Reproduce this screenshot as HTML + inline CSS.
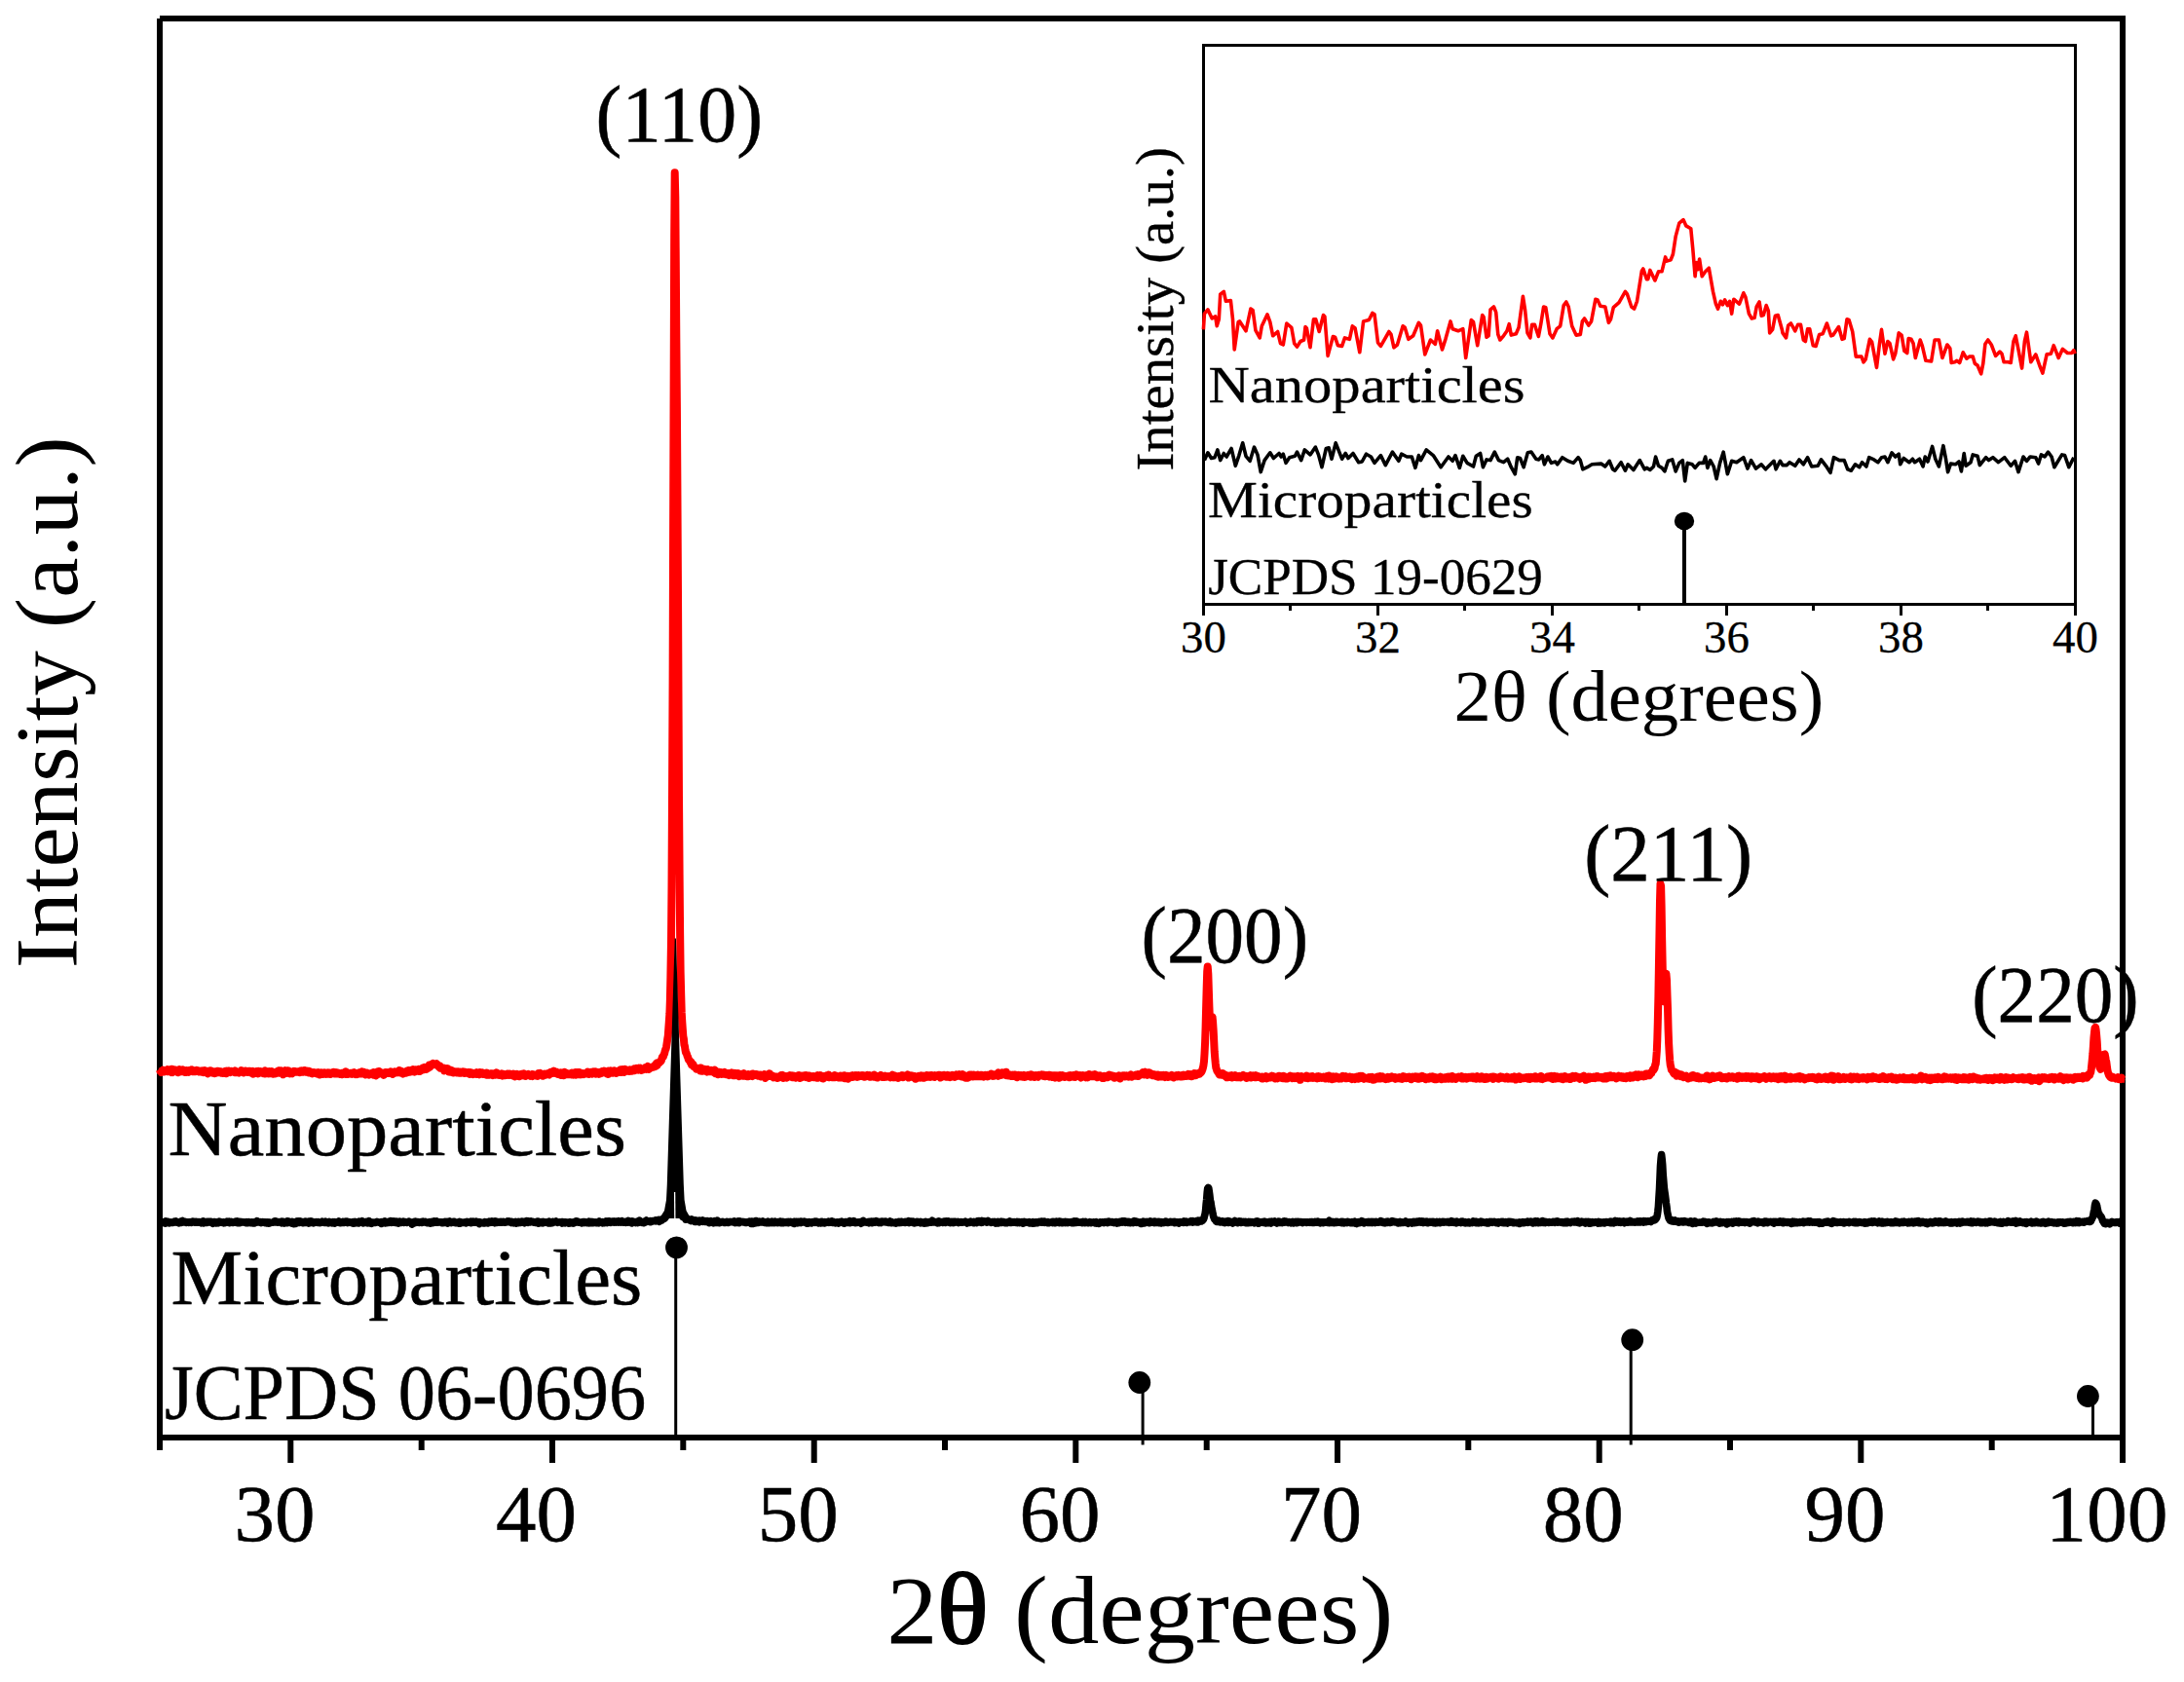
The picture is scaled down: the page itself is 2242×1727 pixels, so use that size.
<!DOCTYPE html>
<html lang="en"><head><meta charset="utf-8"><title>XRD patterns of nanoparticles and microparticles</title>
<style>html,body{margin:0;padding:0;background:#fff}body{width:2242px;height:1727px;overflow:hidden}svg{display:block}text{font-family:"Liberation Serif", "DejaVu Serif", serif;fill:#000;white-space:pre}</style></head><body>
<svg width="2242" height="1727" viewBox="0 0 2242 1727">
<rect width="2242" height="1727" fill="#fff"/>
<g stroke="#000" stroke-width="3" fill="none">
<path d="M693.7 1281.0V1476.0"/>
<path d="M1173.1 1419.5V1483.5"/>
<path d="M1674.2 1375.7V1483.5"/>
<path d="M2148.5 1433.5V1476.0"/>
</g>
<circle cx="694.5" cy="1280.9" r="11.4"/>
<circle cx="1169.8" cy="1419.5" r="11.4"/>
<circle cx="1675.7" cy="1375.7" r="11.4"/>
<circle cx="2143.4" cy="1433.5" r="11.4"/>
<g stroke="#000" stroke-width="6" fill="none">
<path d="M164 19H2179"/><path d="M164 19V1476"/><path d="M2179 16V1502"/><path d="M161 1476H2182"/>
<path d="M298.3 1476V1502"/>
<path d="M567.0 1476V1502"/>
<path d="M835.7 1476V1502"/>
<path d="M1104.3 1476V1502"/>
<path d="M1373.0 1476V1502"/>
<path d="M1641.7 1476V1502"/>
<path d="M1910.3 1476V1502"/>
<path d="M164.0 1476V1489"/>
<path d="M432.7 1476V1489"/>
<path d="M701.3 1476V1489"/>
<path d="M970.0 1476V1489"/>
<path d="M1238.7 1476V1489"/>
<path d="M1507.3 1476V1489"/>
<path d="M1776.0 1476V1489"/>
<path d="M2044.7 1476V1489"/>
</g>
<path d="M164.0 1098.4L164.5 1100.0L165.1 1099.8L165.6 1101.0L166.1 1099.8L166.7 1099.5L167.2 1098.8L167.8 1099.7L168.3 1100.4L168.8 1100.0L169.4 1100.1L169.9 1099.7L170.4 1099.0L171.0 1099.7L171.5 1099.3L172.1 1098.3L172.6 1100.3L173.1 1099.6L173.7 1098.8L174.2 1099.8L174.7 1100.0L175.3 1100.5L175.8 1101.0L176.4 1097.8L176.9 1100.3L177.4 1100.9L178.0 1099.1L178.5 1098.6L179.0 1100.0L179.6 1099.9L180.1 1099.7L180.7 1098.7L181.2 1099.4L181.7 1099.8L182.3 1100.2L182.8 1101.2L183.3 1099.7L183.9 1099.1L184.4 1098.2L185.0 1100.4L185.5 1099.4L186.0 1099.5L186.6 1098.8L187.1 1100.0L187.6 1098.4L188.2 1099.6L188.7 1099.5L189.3 1100.0L189.8 1100.8L190.3 1100.0L190.9 1100.3L191.4 1100.8L191.9 1099.0L192.5 1100.1L193.0 1100.2L193.6 1100.7L194.1 1099.2L194.6 1100.1L195.2 1099.7L195.7 1098.6L196.2 1098.5L196.8 1098.3L197.3 1099.5L197.9 1099.8L198.4 1100.3L198.9 1100.3L199.5 1099.1L200.0 1100.2L200.5 1100.2L201.1 1100.0L201.6 1100.0L202.2 1098.8L202.7 1099.9L203.2 1099.2L203.8 1099.4L204.3 1100.1L204.8 1100.6L205.4 1100.6L205.9 1100.4L206.4 1099.7L207.0 1100.6L207.5 1100.1L208.1 1099.6L208.6 1100.3L209.1 1101.1L209.7 1099.9L210.2 1099.2L210.7 1101.0L211.3 1101.2L211.8 1099.6L212.4 1099.8L212.9 1100.4L213.4 1102.3L214.0 1100.3L214.5 1101.2L215.0 1100.8L215.6 1099.3L216.1 1099.9L216.7 1099.6L217.2 1100.8L217.7 1100.6L218.3 1101.6L218.8 1100.2L219.3 1100.8L219.9 1100.5L220.4 1100.4L221.0 1102.0L221.5 1100.5L222.0 1101.3L222.6 1101.4L223.1 1099.9L223.6 1100.8L224.2 1099.9L224.7 1100.3L225.3 1100.5L225.8 1100.5L226.3 1100.3L226.9 1101.6L227.4 1100.5L227.9 1101.0L228.5 1101.9L229.0 1101.3L229.6 1101.5L230.1 1101.7L230.6 1101.4L231.2 1101.9L231.7 1099.8L232.2 1102.3L232.8 1101.0L233.3 1099.7L233.9 1100.4L234.4 1099.8L234.9 1100.9L235.5 1099.8L236.0 1100.1L236.5 1101.0L237.1 1100.6L237.6 1099.9L238.2 1100.3L238.7 1100.5L239.2 1100.5L239.8 1100.5L240.3 1100.4L240.8 1101.0L241.4 1099.5L241.9 1100.6L242.5 1101.1L243.0 1100.6L243.5 1100.5L244.1 1100.6L244.6 1101.0L245.1 1101.4L245.7 1100.4L246.2 1100.2L246.7 1100.5L247.3 1100.1L247.8 1099.1L248.4 1100.7L248.9 1100.5L249.4 1100.4L250.0 1101.3L250.5 1100.8L251.0 1100.5L251.6 1099.5L252.1 1099.5L252.7 1100.7L253.2 1100.3L253.7 1101.0L254.3 1100.7L254.8 1100.3L255.3 1099.8L255.9 1099.8L256.4 1100.8L257.0 1100.0L257.5 1101.5L258.0 1100.0L258.6 1100.0L259.1 1101.2L259.6 1100.0L260.2 1102.7L260.7 1100.7L261.3 1101.4L261.8 1101.2L262.3 1100.8L262.9 1100.1L263.4 1100.0L263.9 1102.0L264.5 1101.6L265.0 1102.4L265.6 1099.8L266.1 1101.2L266.6 1100.7L267.2 1101.0L267.7 1100.2L268.2 1101.1L268.8 1101.5L269.3 1101.4L269.9 1101.9L270.4 1100.8L270.9 1102.2L271.5 1100.9L272.0 1102.4L272.5 1099.4L273.1 1101.3L273.6 1100.8L274.2 1101.1L274.7 1102.1L275.2 1101.8L275.8 1101.2L276.3 1102.4L276.8 1100.1L277.4 1100.6L277.9 1102.2L278.5 1101.7L279.0 1100.0L279.5 1101.9L280.1 1100.9L280.6 1102.6L281.1 1102.4L281.7 1101.1L282.2 1102.5L282.8 1101.1L283.3 1102.1L283.8 1101.5L284.4 1101.0L284.9 1099.9L285.4 1100.7L286.0 1099.3L286.5 1100.5L287.0 1099.4L287.6 1101.7L288.1 1100.4L288.7 1099.6L289.2 1101.9L289.7 1101.7L290.3 1101.3L290.8 1103.3L291.3 1102.3L291.9 1101.8L292.4 1101.1L293.0 1099.2L293.5 1101.4L294.0 1101.8L294.6 1100.4L295.1 1099.6L295.6 1100.6L296.2 1099.4L296.7 1100.7L297.3 1101.3L297.8 1102.2L298.3 1101.2L298.9 1101.3L299.4 1101.8L299.9 1102.2L300.5 1100.8L301.0 1100.2L301.6 1100.5L302.1 1099.8L302.6 1099.9L303.2 1100.4L303.7 1100.7L304.2 1100.5L304.8 1100.6L305.3 1100.3L305.9 1100.5L306.4 1100.8L306.9 1100.6L307.5 1101.1L308.0 1099.6L308.5 1099.5L309.1 1100.7L309.6 1099.5L310.2 1099.8L310.7 1099.4L311.2 1100.5L311.8 1099.2L312.3 1099.0L312.8 1099.8L313.4 1099.5L313.9 1100.7L314.5 1099.9L315.0 1100.2L315.5 1099.9L316.1 1100.7L316.6 1100.0L317.1 1101.4L317.7 1100.0L318.2 1100.8L318.8 1100.6L319.3 1102.0L319.8 1101.8L320.4 1102.2L320.9 1101.5L321.4 1101.2L322.0 1101.0L322.5 1101.5L323.1 1101.3L323.6 1102.0L324.1 1101.8L324.7 1102.3L325.2 1102.0L325.7 1101.4L326.3 1101.1L326.8 1102.1L327.3 1102.4L327.9 1103.4L328.4 1102.4L329.0 1103.4L329.5 1103.2L330.0 1101.3L330.6 1103.0L331.1 1102.7L331.6 1102.9L332.2 1101.8L332.7 1102.3L333.3 1101.5L333.8 1101.8L334.3 1101.8L334.9 1102.8L335.4 1101.7L335.9 1102.7L336.5 1102.3L337.0 1101.5L337.6 1102.2L338.1 1102.5L338.6 1101.8L339.2 1102.9L339.7 1101.7L340.2 1101.5L340.8 1102.0L341.3 1102.1L341.9 1101.5L342.4 1101.0L342.9 1102.1L343.5 1102.4L344.0 1101.8L344.5 1102.1L345.1 1101.1L345.6 1102.4L346.2 1102.4L346.7 1102.2L347.2 1101.7L347.8 1102.1L348.3 1102.2L348.8 1102.8L349.4 1102.4L349.9 1102.4L350.5 1102.0L351.0 1103.3L351.5 1103.2L352.1 1102.0L352.6 1102.7L353.1 1102.5L353.7 1102.1L354.2 1101.1L354.8 1103.0L355.3 1100.4L355.8 1102.0L356.4 1101.6L356.9 1102.9L357.4 1101.9L358.0 1102.2L358.5 1102.6L359.1 1102.6L359.6 1101.9L360.1 1102.6L360.7 1102.3L361.2 1102.7L361.7 1101.6L362.3 1102.0L362.8 1101.7L363.4 1101.3L363.9 1102.0L364.4 1102.3L365.0 1103.1L365.5 1101.9L366.0 1102.4L366.6 1102.9L367.1 1101.9L367.6 1101.9L368.2 1102.1L368.7 1101.3L369.3 1101.1L369.8 1102.4L370.3 1101.5L370.9 1101.1L371.4 1100.6L371.9 1101.7L372.5 1102.3L373.0 1100.7L373.6 1100.8L374.1 1102.4L374.6 1102.9L375.2 1103.3L375.7 1101.7L376.2 1102.5L376.8 1101.8L377.3 1102.9L377.9 1102.4L378.4 1102.8L378.9 1103.5L379.5 1102.6L380.0 1102.2L380.5 1102.3L381.1 1102.5L381.6 1101.9L382.2 1102.4L382.7 1102.5L383.2 1103.5L383.8 1101.2L384.3 1101.7L384.8 1101.7L385.4 1103.3L385.9 1104.3L386.5 1102.7L387.0 1102.8L387.5 1103.2L388.1 1100.4L388.6 1102.0L389.1 1100.0L389.7 1102.1L390.2 1101.8L390.8 1101.7L391.3 1102.2L391.8 1101.6L392.4 1102.9L392.9 1102.1L393.4 1102.3L394.0 1103.8L394.5 1101.5L395.1 1102.4L395.6 1101.0L396.1 1102.3L396.7 1102.0L397.2 1101.2L397.7 1101.7L398.3 1102.1L398.8 1102.1L399.4 1101.2L399.9 1101.1L400.4 1101.9L401.0 1100.3L401.5 1101.2L402.0 1102.1L402.6 1102.0L403.1 1102.8L403.7 1102.5L404.2 1101.6L404.7 1101.9L405.3 1100.3L405.8 1101.0L406.3 1101.2L406.9 1100.7L407.4 1100.7L407.9 1101.2L408.5 1099.9L409.0 1099.9L409.6 1099.3L410.1 1101.3L410.6 1099.7L411.2 1099.5L411.7 1101.5L412.2 1101.1L412.8 1101.8L413.3 1100.9L413.9 1102.5L414.4 1101.3L414.9 1100.8L415.5 1100.7L416.0 1100.3L416.5 1100.7L417.1 1101.5L417.6 1099.8L418.2 1099.4L418.7 1100.6L419.2 1100.9L419.8 1099.0L420.3 1099.5L420.8 1099.4L421.4 1100.6L421.9 1100.4L422.5 1099.5L423.0 1098.9L423.5 1100.0L424.1 1098.1L424.6 1099.7L425.1 1099.1L425.7 1100.5L426.2 1099.7L426.8 1098.5L427.3 1098.9L427.8 1099.0L428.4 1098.6L428.9 1099.2L429.4 1099.7L430.0 1097.8L430.5 1098.7L431.1 1099.9L431.6 1099.3L432.1 1098.0L432.7 1097.7L433.2 1097.5L433.7 1096.8L434.3 1098.5L434.8 1097.6L435.4 1096.7L435.9 1096.0L436.4 1096.7L437.0 1096.4L437.5 1098.0L438.0 1096.3L438.6 1096.7L439.1 1097.0L439.7 1096.6L440.2 1095.4L440.7 1093.5L441.3 1095.7L441.8 1094.6L442.3 1093.7L442.9 1093.5L443.4 1092.6L444.0 1092.3L444.5 1091.9L445.0 1093.2L445.6 1093.0L446.1 1092.8L446.6 1092.9L447.2 1092.9L447.7 1092.6L448.2 1092.2L448.8 1093.7L449.3 1094.4L449.9 1094.5L450.4 1095.4L450.9 1094.7L451.5 1094.6L452.0 1096.6L452.5 1095.7L453.1 1096.5L453.6 1096.4L454.2 1097.1L454.7 1097.2L455.2 1097.2L455.8 1096.7L456.3 1099.4L456.8 1098.5L457.4 1097.1L457.9 1098.1L458.5 1097.9L459.0 1098.1L459.5 1097.1L460.1 1099.5L460.6 1100.4L461.1 1099.0L461.7 1099.9L462.2 1099.9L462.8 1098.8L463.3 1100.8L463.8 1099.0L464.4 1099.7L464.9 1100.1L465.4 1101.4L466.0 1100.7L466.5 1100.6L467.1 1100.2L467.6 1100.5L468.1 1100.6L468.7 1101.4L469.2 1101.5L469.7 1101.0L470.3 1100.3L470.8 1100.4L471.4 1101.7L471.9 1100.9L472.4 1100.6L473.0 1101.8L473.5 1101.7L474.0 1101.2L474.6 1100.8L475.1 1100.4L475.7 1101.7L476.2 1100.8L476.7 1101.8L477.3 1100.6L477.8 1101.4L478.3 1101.5L478.9 1101.7L479.4 1101.9L480.0 1102.0L480.5 1100.9L481.0 1100.9L481.6 1101.6L482.1 1103.0L482.6 1101.8L483.2 1101.1L483.7 1101.3L484.3 1102.1L484.8 1102.9L485.3 1101.8L485.9 1103.0L486.4 1102.6L486.9 1102.2L487.5 1101.8L488.0 1102.3L488.5 1101.8L489.1 1102.7L489.6 1101.2L490.2 1102.9L490.7 1103.0L491.2 1102.8L491.8 1103.3L492.3 1102.7L492.8 1101.0L493.4 1102.1L493.9 1102.5L494.5 1101.6L495.0 1101.4L495.5 1102.7L496.1 1102.9L496.6 1102.4L497.1 1102.6L497.7 1102.4L498.2 1102.3L498.8 1102.8L499.3 1103.5L499.8 1101.6L500.4 1102.5L500.9 1103.7L501.4 1103.0L502.0 1103.2L502.5 1103.6L503.1 1102.4L503.6 1102.3L504.1 1102.2L504.7 1102.3L505.2 1103.7L505.7 1104.0L506.3 1102.9L506.8 1102.8L507.4 1103.4L507.9 1103.7L508.4 1103.4L509.0 1101.7L509.5 1102.7L510.0 1101.4L510.6 1103.3L511.1 1102.6L511.7 1102.8L512.2 1104.1L512.7 1104.1L513.3 1103.7L513.8 1103.4L514.3 1103.2L514.9 1102.5L515.4 1102.9L516.0 1104.6L516.5 1102.7L517.0 1102.8L517.6 1103.6L518.1 1104.2L518.6 1104.3L519.2 1103.2L519.7 1103.8L520.3 1103.5L520.8 1102.7L521.3 1103.6L521.9 1103.0L522.4 1103.9L522.9 1103.6L523.5 1102.7L524.0 1103.3L524.6 1103.1L525.1 1103.0L525.6 1103.1L526.2 1104.2L526.7 1103.5L527.2 1102.6L527.8 1103.4L528.3 1104.4L528.8 1105.3L529.4 1103.2L529.9 1103.9L530.5 1103.8L531.0 1102.9L531.5 1104.2L532.1 1103.7L532.6 1104.0L533.1 1105.2L533.7 1103.5L534.2 1103.9L534.8 1103.8L535.3 1102.8L535.8 1102.8L536.4 1104.3L536.9 1103.8L537.4 1103.5L538.0 1102.5L538.5 1104.0L539.1 1103.8L539.6 1104.9L540.1 1104.3L540.7 1104.0L541.2 1103.5L541.7 1103.5L542.3 1103.0L542.8 1103.6L543.4 1103.9L543.9 1104.1L544.4 1104.7L545.0 1104.0L545.5 1103.4L546.0 1104.3L546.6 1104.9L547.1 1103.1L547.7 1103.6L548.2 1103.8L548.7 1103.6L549.3 1103.7L549.8 1103.6L550.3 1103.5L550.9 1104.7L551.4 1104.9L552.0 1103.0L552.5 1102.3L553.0 1104.1L553.6 1103.2L554.1 1102.7L554.6 1102.0L555.2 1103.2L555.7 1102.9L556.3 1102.8L556.8 1103.5L557.3 1104.7L557.9 1104.0L558.4 1104.0L558.9 1102.7L559.5 1103.5L560.0 1102.9L560.6 1103.5L561.1 1103.0L561.6 1102.6L562.2 1103.0L562.7 1102.2L563.2 1103.2L563.8 1103.5L564.3 1101.9L564.9 1102.5L565.4 1100.9L565.9 1102.2L566.5 1102.0L567.0 1100.5L567.5 1101.9L568.1 1100.9L568.6 1099.7L569.1 1100.0L569.7 1101.7L570.2 1101.3L570.8 1102.1L571.3 1100.6L571.8 1102.0L572.4 1102.7L572.9 1101.7L573.4 1102.6L574.0 1102.0L574.5 1102.6L575.1 1102.8L575.6 1103.8L576.1 1101.4L576.7 1102.9L577.2 1103.4L577.7 1101.7L578.3 1102.4L578.8 1104.2L579.4 1103.3L579.9 1100.9L580.4 1102.9L581.0 1101.9L581.5 1103.2L582.0 1102.5L582.6 1102.6L583.1 1102.3L583.7 1103.1L584.2 1102.6L584.7 1102.4L585.3 1102.7L585.8 1103.0L586.3 1102.2L586.9 1103.4L587.4 1101.6L588.0 1103.0L588.5 1102.3L589.0 1103.5L589.6 1101.8L590.1 1102.0L590.6 1101.3L591.2 1103.6L591.7 1102.5L592.3 1101.2L592.8 1101.9L593.3 1101.4L593.9 1103.2L594.4 1102.4L594.9 1101.0L595.5 1102.6L596.0 1103.2L596.6 1102.7L597.1 1103.0L597.6 1102.4L598.2 1102.9L598.7 1103.1L599.2 1102.1L599.8 1102.8L600.3 1102.6L600.9 1102.4L601.4 1102.0L601.9 1101.9L602.5 1102.4L603.0 1102.5L603.5 1100.6L604.1 1101.8L604.6 1102.9L605.2 1102.5L605.7 1101.1L606.2 1102.5L606.8 1100.9L607.3 1101.1L607.8 1102.7L608.4 1101.1L608.9 1101.3L609.4 1100.3L610.0 1100.8L610.5 1100.7L611.1 1101.5L611.6 1100.4L612.1 1102.6L612.7 1101.6L613.2 1101.4L613.7 1101.1L614.3 1102.2L614.8 1102.7L615.4 1101.2L615.9 1102.5L616.4 1102.1L617.0 1102.1L617.5 1101.4L618.0 1100.2L618.6 1101.4L619.1 1100.9L619.7 1101.1L620.2 1099.6L620.7 1100.9L621.3 1101.2L621.8 1100.4L622.3 1101.5L622.9 1102.4L623.4 1101.3L624.0 1100.8L624.5 1102.9L625.0 1099.6L625.6 1100.4L626.1 1101.4L626.6 1100.6L627.2 1099.4L627.7 1100.9L628.3 1101.2L628.8 1100.0L629.3 1101.7L629.9 1101.0L630.4 1101.3L630.9 1099.4L631.5 1100.5L632.0 1101.7L632.6 1101.9L633.1 1101.5L633.6 1100.5L634.2 1100.5L634.7 1099.8L635.2 1100.9L635.8 1099.5L636.3 1100.1L636.9 1098.5L637.4 1098.8L637.9 1101.0L638.5 1099.7L639.0 1099.9L639.5 1098.2L640.1 1099.6L640.6 1101.0L641.2 1098.8L641.7 1098.0L642.2 1099.5L642.8 1099.2L643.3 1099.5L643.8 1098.7L644.4 1098.8L644.9 1098.7L645.5 1099.8L646.0 1099.6L646.5 1099.8L647.1 1098.5L647.6 1099.4L648.1 1098.7L648.7 1098.8L649.2 1099.6L649.7 1098.9L650.3 1098.1L650.8 1097.5L651.4 1098.5L651.9 1099.0L652.4 1097.9L653.0 1098.3L653.5 1097.0L654.0 1097.2L654.6 1098.3L655.1 1098.6L655.7 1097.7L656.2 1096.7L656.7 1097.5L657.3 1096.8L657.8 1097.5L658.3 1099.0L658.9 1097.8L659.4 1097.6L660.0 1098.3L660.5 1097.3L661.0 1097.9L661.6 1097.4L662.1 1097.4L662.6 1096.0L663.2 1097.9L663.7 1097.9L664.3 1095.5L664.8 1095.0L665.3 1096.2L665.9 1097.9L666.4 1096.9L666.9 1097.1L667.5 1096.6L668.0 1096.7L668.6 1095.6L669.1 1095.4L669.6 1095.6L670.2 1095.7L670.7 1095.4L671.2 1095.1L671.8 1094.2L672.3 1095.2L672.9 1094.4L673.4 1094.6L673.9 1092.0L674.5 1094.0L675.0 1091.2L675.5 1092.5L676.1 1091.5L676.6 1091.5L677.2 1090.6L677.7 1090.1L678.2 1089.8L678.8 1089.1L679.3 1087.4L679.8 1085.4L680.4 1085.4L680.9 1085.1L681.5 1082.8L682.0 1082.3L682.5 1079.9L683.1 1077.7L683.6 1076.9L684.1 1074.7L684.7 1070.6L685.2 1067.0L685.8 1063.3L686.3 1056.0L686.8 1049.4L687.4 1040.8L687.9 1026.5L688.4 1003.4L689.0 967.2L689.5 910.6L690.0 822.3L690.6 700.9L691.1 547.3L691.7 378.7L692.2 240.3L692.7 177.2L693.3 202.5L693.8 271.6L694.3 346.5L694.9 417.3L695.4 500.4L696.0 607.9L696.5 717.4L697.0 818.0L697.6 898.2L698.1 956.7L698.6 997.3L699.2 1021.4L699.7 1039.4L700.3 1049.7L700.8 1056.7L701.3 1063.7L701.9 1066.8L702.4 1072.7L702.9 1074.0L703.5 1078.1L704.0 1080.6L704.6 1081.2L705.1 1082.7L705.6 1084.6L706.2 1085.4L706.7 1087.8L707.2 1088.3L707.8 1088.6L708.3 1089.5L708.9 1091.4L709.4 1090.2L709.9 1093.0L710.5 1091.9L711.0 1093.0L711.5 1092.8L712.1 1095.1L712.6 1095.0L713.2 1095.7L713.7 1096.0L714.2 1096.2L714.8 1097.5L715.3 1096.8L715.8 1097.1L716.4 1097.6L716.9 1098.0L717.5 1098.0L718.0 1097.7L718.5 1096.6L719.1 1099.5L719.6 1097.5L720.1 1096.8L720.7 1097.7L721.2 1099.8L721.8 1099.6L722.3 1098.5L722.8 1099.2L723.4 1099.1L723.9 1097.9L724.4 1099.5L725.0 1100.1L725.5 1100.5L726.1 1098.8L726.6 1098.2L727.1 1098.9L727.7 1100.3L728.2 1100.2L728.7 1100.3L729.3 1100.3L729.8 1099.9L730.3 1099.0L730.9 1100.2L731.4 1100.2L732.0 1100.4L732.5 1100.9L733.0 1099.3L733.6 1098.7L734.1 1099.2L734.6 1102.2L735.2 1100.0L735.7 1101.1L736.3 1100.9L736.8 1101.5L737.3 1103.2L737.9 1100.7L738.4 1101.1L738.9 1101.0L739.5 1101.9L740.0 1102.2L740.6 1101.2L741.1 1102.9L741.6 1102.8L742.2 1102.4L742.7 1101.8L743.2 1101.7L743.8 1100.9L744.3 1102.7L744.9 1101.5L745.4 1101.8L745.9 1103.1L746.5 1102.0L747.0 1102.5L747.5 1103.5L748.1 1104.0L748.6 1102.1L749.2 1103.5L749.7 1102.3L750.2 1102.9L750.8 1102.8L751.3 1101.5L751.8 1103.1L752.4 1104.0L752.9 1102.7L753.5 1102.7L754.0 1101.9L754.5 1104.3L755.1 1103.2L755.6 1102.3L756.1 1103.9L756.7 1102.4L757.2 1103.1L757.8 1102.2L758.3 1104.5L758.8 1105.1L759.4 1103.1L759.9 1103.2L760.4 1103.4L761.0 1103.1L761.5 1103.8L762.1 1104.4L762.6 1102.6L763.1 1103.6L763.7 1102.2L764.2 1104.7L764.7 1103.5L765.3 1103.3L765.8 1104.8L766.4 1103.8L766.9 1105.0L767.4 1104.8L768.0 1105.1L768.5 1103.1L769.0 1103.6L769.6 1103.8L770.1 1103.7L770.6 1104.7L771.2 1103.2L771.7 1104.3L772.3 1104.9L772.8 1102.5L773.3 1103.2L773.9 1103.2L774.4 1103.4L774.9 1104.0L775.5 1103.5L776.0 1103.9L776.6 1103.2L777.1 1103.6L777.6 1104.4L778.2 1104.7L778.7 1103.7L779.2 1104.3L779.8 1103.9L780.3 1104.3L780.9 1103.7L781.4 1105.4L781.9 1104.8L782.5 1104.2L783.0 1103.8L783.5 1104.0L784.1 1103.8L784.6 1103.3L785.2 1105.7L785.7 1106.8L786.2 1103.8L786.8 1103.7L787.3 1104.8L787.8 1104.6L788.4 1103.2L788.9 1102.9L789.5 1104.2L790.0 1102.4L790.5 1105.0L791.1 1103.8L791.6 1104.4L792.1 1104.6L792.7 1104.3L793.2 1104.9L793.8 1105.2L794.3 1106.4L794.8 1105.5L795.4 1105.8L795.9 1105.7L796.4 1105.5L797.0 1105.4L797.5 1105.7L798.1 1106.9L798.6 1106.3L799.1 1105.6L799.7 1106.3L800.2 1105.5L800.7 1105.1L801.3 1104.9L801.8 1104.1L802.4 1105.2L802.9 1104.9L803.4 1104.0L804.0 1104.4L804.5 1106.9L805.0 1105.8L805.6 1105.8L806.1 1105.8L806.7 1105.3L807.2 1105.8L807.7 1106.5L808.3 1105.4L808.8 1105.8L809.3 1105.8L809.9 1104.7L810.4 1105.0L810.9 1104.3L811.5 1105.3L812.0 1104.6L812.6 1105.5L813.1 1104.3L813.6 1106.1L814.2 1104.9L814.7 1104.7L815.2 1104.7L815.8 1105.8L816.3 1104.8L816.9 1106.6L817.4 1106.4L817.9 1106.1L818.5 1104.6L819.0 1105.5L819.5 1104.9L820.1 1104.3L820.6 1105.7L821.2 1106.9L821.7 1105.0L822.2 1105.7L822.8 1106.2L823.3 1104.5L823.8 1105.0L824.4 1105.3L824.9 1105.4L825.5 1104.5L826.0 1105.3L826.5 1105.3L827.1 1105.9L827.6 1104.2L828.1 1104.6L828.7 1104.8L829.2 1104.9L829.8 1105.4L830.3 1104.6L830.8 1106.9L831.4 1104.6L831.9 1105.5L832.4 1106.1L833.0 1105.9L833.5 1105.4L834.1 1105.1L834.6 1105.6L835.1 1106.1L835.7 1105.5L836.2 1106.1L836.7 1106.0L837.3 1105.2L837.8 1105.0L838.4 1106.6L838.9 1105.0L839.4 1104.2L840.0 1106.6L840.5 1104.6L841.0 1104.5L841.6 1105.7L842.1 1104.1L842.7 1104.3L843.2 1105.8L843.7 1104.6L844.3 1107.1L844.8 1105.6L845.3 1107.3L845.9 1105.3L846.4 1105.4L847.0 1104.9L847.5 1105.4L848.0 1105.0L848.6 1105.2L849.1 1105.6L849.6 1104.1L850.2 1104.5L850.7 1103.6L851.2 1106.2L851.8 1105.1L852.3 1105.3L852.9 1105.1L853.4 1105.9L853.9 1105.7L854.5 1106.1L855.0 1105.2L855.5 1105.2L856.1 1105.2L856.6 1104.1L857.2 1106.2L857.7 1104.3L858.2 1104.7L858.8 1105.8L859.3 1105.3L859.8 1105.8L860.4 1106.4L860.9 1106.5L861.5 1106.3L862.0 1105.0L862.5 1106.5L863.1 1104.5L863.6 1105.3L864.1 1106.2L864.7 1105.3L865.2 1105.6L865.8 1105.5L866.3 1106.8L866.8 1104.2L867.4 1107.1L867.9 1106.8L868.4 1105.9L869.0 1106.2L869.5 1105.0L870.1 1106.4L870.6 1107.7L871.1 1104.9L871.7 1106.4L872.2 1105.4L872.7 1105.0L873.3 1105.2L873.8 1105.3L874.4 1104.3L874.9 1104.1L875.4 1106.0L876.0 1105.0L876.5 1105.5L877.0 1105.3L877.6 1105.4L878.1 1104.1L878.7 1104.6L879.2 1105.6L879.7 1105.9L880.3 1104.2L880.8 1104.6L881.3 1104.3L881.9 1105.2L882.4 1104.9L883.0 1104.6L883.5 1104.4L884.0 1105.0L884.6 1104.8L885.1 1104.1L885.6 1104.9L886.2 1104.5L886.7 1105.7L887.3 1105.7L887.8 1104.7L888.3 1105.6L888.9 1105.2L889.4 1104.7L889.9 1104.5L890.5 1103.9L891.0 1104.1L891.5 1105.0L892.1 1105.5L892.6 1104.1L893.2 1104.8L893.7 1105.1L894.2 1105.6L894.8 1105.2L895.3 1105.5L895.8 1105.3L896.4 1104.5L896.9 1105.5L897.5 1103.6L898.0 1105.2L898.5 1105.4L899.1 1105.8L899.6 1105.6L900.1 1106.5L900.7 1106.5L901.2 1104.9L901.8 1104.9L902.3 1105.3L902.8 1105.4L903.4 1105.1L903.9 1105.2L904.4 1103.9L905.0 1105.5L905.5 1105.9L906.1 1105.9L906.6 1105.5L907.1 1105.2L907.7 1106.0L908.2 1105.9L908.7 1104.7L909.3 1105.3L909.8 1105.7L910.4 1105.6L910.9 1105.2L911.4 1105.3L912.0 1105.1L912.5 1105.4L913.0 1105.3L913.6 1105.5L914.1 1106.2L914.7 1105.6L915.2 1105.7L915.7 1104.8L916.3 1103.7L916.8 1105.4L917.3 1106.2L917.9 1105.5L918.4 1105.3L919.0 1104.8L919.5 1106.2L920.0 1105.0L920.6 1105.4L921.1 1106.1L921.6 1105.9L922.2 1106.9L922.7 1105.2L923.3 1106.0L923.8 1105.8L924.3 1104.9L924.9 1105.4L925.4 1104.9L925.9 1104.3L926.5 1105.3L927.0 1104.4L927.6 1106.1L928.1 1104.5L928.6 1104.6L929.2 1105.1L929.7 1104.7L930.2 1105.1L930.8 1104.8L931.3 1104.3L931.8 1103.5L932.4 1104.5L932.9 1106.5L933.5 1105.8L934.0 1105.5L934.5 1105.1L935.1 1105.1L935.6 1105.3L936.1 1104.3L936.7 1104.6L937.2 1104.7L937.8 1106.2L938.3 1104.9L938.8 1106.3L939.4 1105.3L939.9 1107.8L940.4 1105.6L941.0 1105.7L941.5 1106.7L942.1 1106.4L942.6 1106.2L943.1 1104.8L943.7 1106.3L944.2 1106.6L944.7 1105.3L945.3 1105.3L945.8 1104.5L946.4 1106.0L946.9 1105.7L947.4 1105.5L948.0 1104.7L948.5 1106.8L949.0 1106.2L949.6 1105.2L950.1 1106.2L950.7 1104.3L951.2 1105.4L951.7 1104.0L952.3 1105.7L952.8 1104.4L953.3 1105.5L953.9 1104.4L954.4 1104.9L955.0 1105.7L955.5 1104.1L956.0 1105.0L956.6 1104.3L957.1 1105.4L957.6 1104.5L958.2 1104.7L958.7 1104.9L959.3 1105.8L959.8 1104.2L960.3 1105.0L960.9 1104.5L961.4 1104.3L961.9 1104.3L962.5 1104.8L963.0 1105.0L963.6 1103.8L964.1 1105.0L964.6 1103.8L965.2 1104.8L965.7 1106.5L966.2 1104.1L966.8 1104.7L967.3 1104.6L967.9 1105.3L968.4 1104.5L968.9 1103.8L969.5 1103.9L970.0 1104.9L970.5 1104.7L971.1 1105.6L971.6 1104.4L972.1 1105.4L972.7 1104.0L973.2 1105.6L973.8 1104.8L974.3 1104.4L974.8 1105.0L975.4 1106.1L975.9 1104.3L976.4 1104.1L977.0 1104.1L977.5 1103.9L978.1 1104.8L978.6 1105.3L979.1 1104.9L979.7 1105.1L980.2 1105.9L980.7 1104.7L981.3 1104.2L981.8 1103.4L982.4 1105.1L982.9 1104.3L983.4 1104.5L984.0 1104.8L984.5 1104.7L985.0 1103.2L985.6 1103.5L986.1 1104.4L986.7 1104.3L987.2 1105.4L987.7 1104.4L988.3 1103.1L988.8 1105.7L989.3 1103.9L989.9 1104.5L990.4 1105.3L991.0 1104.4L991.5 1106.8L992.0 1105.4L992.6 1105.7L993.1 1105.0L993.6 1106.7L994.2 1105.4L994.7 1104.4L995.3 1105.8L995.8 1103.6L996.3 1104.2L996.9 1104.7L997.4 1104.4L997.9 1103.6L998.5 1105.4L999.0 1105.4L999.6 1103.6L1000.1 1104.4L1000.6 1103.8L1001.2 1104.0L1001.7 1105.1L1002.2 1104.6L1002.8 1104.5L1003.3 1104.5L1003.9 1103.6L1004.4 1105.2L1004.9 1103.9L1005.5 1105.2L1006.0 1103.9L1006.5 1103.8L1007.1 1105.1L1007.6 1104.5L1008.2 1103.9L1008.7 1104.1L1009.2 1104.7L1009.8 1105.5L1010.3 1104.8L1010.8 1104.1L1011.4 1103.7L1011.9 1103.9L1012.4 1104.3L1013.0 1104.3L1013.5 1103.9L1014.1 1105.3L1014.6 1103.7L1015.1 1103.7L1015.7 1104.3L1016.2 1104.1L1016.7 1103.4L1017.3 1104.4L1017.8 1102.6L1018.4 1104.7L1018.9 1104.9L1019.4 1104.5L1020.0 1103.4L1020.5 1104.7L1021.0 1103.4L1021.6 1104.2L1022.1 1103.3L1022.7 1103.6L1023.2 1104.0L1023.7 1102.5L1024.3 1103.5L1024.8 1104.8L1025.3 1101.4L1025.9 1103.6L1026.4 1103.7L1027.0 1103.1L1027.5 1103.0L1028.0 1103.8L1028.6 1103.0L1029.1 1101.3L1029.6 1102.1L1030.2 1102.6L1030.7 1102.9L1031.3 1102.5L1031.8 1102.5L1032.3 1103.8L1032.9 1100.7L1033.4 1104.1L1033.9 1104.0L1034.5 1103.9L1035.0 1103.9L1035.6 1104.1L1036.1 1104.6L1036.6 1104.5L1037.2 1103.8L1037.7 1104.8L1038.2 1103.9L1038.8 1104.7L1039.3 1104.3L1039.9 1103.8L1040.4 1104.9L1040.9 1104.6L1041.5 1103.8L1042.0 1104.5L1042.5 1103.6L1043.1 1105.6L1043.6 1104.9L1044.2 1106.1L1044.7 1104.4L1045.2 1105.1L1045.8 1103.9L1046.3 1104.1L1046.8 1104.7L1047.4 1104.9L1047.9 1105.3L1048.5 1104.3L1049.0 1105.6L1049.5 1105.7L1050.1 1104.5L1050.6 1104.7L1051.1 1104.0L1051.7 1106.0L1052.2 1104.7L1052.7 1105.7L1053.3 1105.4L1053.8 1104.4L1054.4 1104.1L1054.9 1105.0L1055.4 1104.2L1056.0 1103.8L1056.5 1103.7L1057.0 1104.5L1057.6 1104.5L1058.1 1105.6L1058.7 1103.4L1059.2 1104.9L1059.7 1103.7L1060.3 1105.3L1060.8 1105.2L1061.3 1104.8L1061.9 1105.9L1062.4 1104.7L1063.0 1104.6L1063.5 1104.1L1064.0 1104.4L1064.6 1104.8L1065.1 1105.3L1065.6 1105.7L1066.2 1104.4L1066.7 1103.8L1067.3 1103.9L1067.8 1104.1L1068.3 1104.0L1068.9 1104.0L1069.4 1103.6L1069.9 1104.5L1070.5 1104.4L1071.0 1104.8L1071.6 1103.8L1072.1 1104.8L1072.6 1105.2L1073.2 1105.3L1073.7 1104.4L1074.2 1104.0L1074.8 1103.9L1075.3 1103.9L1075.9 1104.5L1076.4 1105.0L1076.9 1104.0L1077.5 1105.6L1078.0 1103.9L1078.5 1104.2L1079.1 1104.3L1079.6 1105.4L1080.2 1105.8L1080.7 1104.2L1081.2 1104.2L1081.8 1104.3L1082.3 1104.7L1082.8 1105.0L1083.4 1106.6L1083.9 1104.3L1084.5 1105.1L1085.0 1104.6L1085.5 1105.4L1086.1 1104.8L1086.6 1105.6L1087.1 1104.3L1087.7 1106.7L1088.2 1105.4L1088.8 1104.1L1089.3 1105.7L1089.8 1104.8L1090.4 1104.2L1090.9 1105.2L1091.4 1104.5L1092.0 1105.6L1092.5 1104.7L1093.0 1105.8L1093.6 1105.2L1094.1 1105.3L1094.7 1105.2L1095.2 1104.9L1095.7 1104.8L1096.3 1105.2L1096.8 1105.3L1097.3 1104.5L1097.9 1106.2L1098.4 1105.9L1099.0 1104.0L1099.5 1105.5L1100.0 1104.9L1100.6 1105.0L1101.1 1104.4L1101.6 1105.7L1102.2 1104.2L1102.7 1104.4L1103.3 1104.0L1103.8 1105.9L1104.3 1105.3L1104.9 1103.4L1105.4 1104.0L1105.9 1104.9L1106.5 1104.6L1107.0 1104.9L1107.6 1104.5L1108.1 1105.2L1108.6 1104.1L1109.2 1105.5L1109.7 1106.5L1110.2 1104.4L1110.8 1105.6L1111.3 1105.1L1111.9 1104.1L1112.4 1104.5L1112.9 1104.4L1113.5 1105.1L1114.0 1105.7L1114.5 1106.2L1115.1 1105.2L1115.6 1104.2L1116.2 1105.1L1116.7 1106.3L1117.2 1105.1L1117.8 1104.7L1118.3 1103.0L1118.8 1104.0L1119.4 1104.8L1119.9 1103.8L1120.5 1105.2L1121.0 1103.8L1121.5 1103.6L1122.1 1103.9L1122.6 1104.4L1123.1 1105.1L1123.7 1104.1L1124.2 1103.2L1124.8 1104.7L1125.3 1105.1L1125.8 1105.9L1126.4 1104.2L1126.9 1106.2L1127.4 1105.5L1128.0 1105.3L1128.5 1104.5L1129.1 1104.3L1129.6 1104.5L1130.1 1105.9L1130.7 1105.4L1131.2 1106.2L1131.7 1106.9L1132.3 1105.5L1132.8 1105.5L1133.3 1107.0L1133.9 1104.8L1134.4 1105.5L1135.0 1105.5L1135.5 1105.2L1136.0 1105.3L1136.6 1104.8L1137.1 1106.2L1137.6 1104.2L1138.2 1104.4L1138.7 1103.6L1139.3 1103.7L1139.8 1105.2L1140.3 1105.3L1140.9 1104.6L1141.4 1105.4L1141.9 1105.5L1142.5 1104.7L1143.0 1105.2L1143.6 1105.5L1144.1 1106.7L1144.6 1105.1L1145.2 1105.7L1145.7 1105.8L1146.2 1106.1L1146.8 1105.5L1147.3 1106.1L1147.9 1104.8L1148.4 1105.4L1148.9 1104.4L1149.5 1105.9L1150.0 1107.4L1150.5 1105.8L1151.1 1105.7L1151.6 1105.6L1152.2 1105.3L1152.7 1104.2L1153.2 1104.2L1153.8 1104.7L1154.3 1105.2L1154.8 1104.5L1155.4 1105.2L1155.9 1104.8L1156.5 1104.4L1157.0 1104.7L1157.5 1104.8L1158.1 1105.6L1158.6 1105.7L1159.1 1105.1L1159.7 1104.5L1160.2 1104.1L1160.8 1103.4L1161.3 1104.1L1161.8 1105.6L1162.4 1105.2L1162.9 1104.6L1163.4 1104.3L1164.0 1104.5L1164.5 1104.8L1165.1 1104.4L1165.6 1104.6L1166.1 1103.7L1166.7 1104.5L1167.2 1104.0L1167.7 1104.8L1168.3 1103.1L1168.8 1104.8L1169.4 1103.7L1169.9 1103.2L1170.4 1103.4L1171.0 1103.3L1171.5 1102.8L1172.0 1103.1L1172.6 1102.3L1173.1 1101.2L1173.6 1102.8L1174.2 1102.3L1174.7 1103.4L1175.3 1102.3L1175.8 1100.7L1176.3 1102.9L1176.9 1101.6L1177.4 1102.5L1177.9 1103.8L1178.5 1102.9L1179.0 1101.4L1179.6 1102.3L1180.1 1101.5L1180.6 1103.2L1181.2 1103.3L1181.7 1102.3L1182.2 1103.4L1182.8 1104.2L1183.3 1104.3L1183.9 1103.4L1184.4 1103.3L1184.9 1103.3L1185.5 1103.3L1186.0 1104.6L1186.5 1104.3L1187.1 1105.1L1187.6 1104.6L1188.2 1104.3L1188.7 1103.8L1189.2 1105.6L1189.8 1104.5L1190.3 1104.6L1190.8 1103.9L1191.4 1104.0L1191.9 1105.3L1192.5 1104.2L1193.0 1105.3L1193.5 1105.5L1194.1 1104.8L1194.6 1103.8L1195.1 1105.4L1195.7 1105.9L1196.2 1104.3L1196.8 1103.9L1197.3 1105.4L1197.8 1104.9L1198.4 1104.5L1198.9 1106.0L1199.4 1105.0L1200.0 1105.6L1200.5 1104.9L1201.1 1104.6L1201.6 1105.4L1202.1 1104.6L1202.7 1103.9L1203.2 1104.5L1203.7 1105.6L1204.3 1105.5L1204.8 1106.4L1205.4 1105.5L1205.9 1105.8L1206.4 1104.9L1207.0 1104.4L1207.5 1105.1L1208.0 1104.1L1208.6 1105.4L1209.1 1104.4L1209.7 1105.0L1210.2 1104.0L1210.7 1104.4L1211.3 1105.3L1211.8 1104.6L1212.3 1104.3L1212.9 1104.8L1213.4 1105.3L1213.9 1104.3L1214.5 1103.7L1215.0 1103.6L1215.6 1103.7L1216.1 1105.1L1216.6 1104.1L1217.2 1104.7L1217.7 1105.0L1218.2 1104.5L1218.8 1104.7L1219.3 1104.0L1219.9 1102.9L1220.4 1104.6L1220.9 1104.3L1221.5 1104.3L1222.0 1103.2L1222.5 1103.7L1223.1 1105.2L1223.6 1103.2L1224.2 1104.2L1224.7 1104.8L1225.2 1103.5L1225.8 1104.0L1226.3 1102.2L1226.8 1104.2L1227.4 1103.1L1227.9 1104.0L1228.5 1102.6L1229.0 1102.3L1229.5 1102.7L1230.1 1101.9L1230.6 1101.7L1231.1 1102.9L1231.7 1102.3L1232.2 1101.3L1232.8 1101.4L1233.3 1100.6L1233.8 1099.6L1234.4 1098.2L1234.9 1096.4L1235.4 1094.1L1236.0 1089.7L1236.5 1082.3L1237.1 1070.2L1237.6 1054.9L1238.1 1035.5L1238.7 1013.6L1239.2 997.5L1239.7 992.4L1240.3 999.9L1240.8 1015.9L1241.4 1033.6L1241.9 1046.7L1242.4 1054.6L1243.0 1053.9L1243.5 1049.0L1244.0 1044.5L1244.6 1044.3L1245.1 1049.5L1245.7 1058.7L1246.2 1069.0L1246.7 1079.6L1247.3 1086.8L1247.8 1092.2L1248.3 1096.3L1248.9 1097.9L1249.4 1099.9L1250.0 1100.2L1250.5 1101.1L1251.0 1101.8L1251.6 1103.2L1252.1 1103.5L1252.6 1103.2L1253.2 1102.3L1253.7 1103.2L1254.2 1103.7L1254.8 1103.8L1255.3 1102.1L1255.9 1103.4L1256.4 1103.1L1256.9 1104.4L1257.5 1104.4L1258.0 1103.7L1258.5 1105.6L1259.1 1104.2L1259.6 1106.3L1260.2 1104.7L1260.7 1104.9L1261.2 1106.1L1261.8 1104.4L1262.3 1104.4L1262.8 1105.8L1263.4 1105.0L1263.9 1105.2L1264.5 1104.3L1265.0 1106.4L1265.5 1105.9L1266.1 1105.8L1266.6 1106.0L1267.1 1105.4L1267.7 1105.2L1268.2 1104.3L1268.8 1105.6L1269.3 1106.2L1269.8 1106.0L1270.4 1106.2L1270.9 1106.1L1271.4 1105.0L1272.0 1104.8L1272.5 1106.2L1273.1 1105.9L1273.6 1106.3L1274.1 1105.3L1274.7 1104.8L1275.2 1105.6L1275.7 1104.9L1276.3 1104.0L1276.8 1104.7L1277.4 1104.4L1277.9 1104.4L1278.4 1104.8L1279.0 1105.8L1279.5 1106.8L1280.0 1106.5L1280.6 1105.2L1281.1 1106.3L1281.7 1105.4L1282.2 1105.4L1282.7 1104.9L1283.3 1105.2L1283.8 1104.1L1284.3 1106.5L1284.9 1104.6L1285.4 1105.4L1286.0 1104.7L1286.5 1105.4L1287.0 1104.5L1287.6 1105.1L1288.1 1106.0L1288.6 1105.6L1289.2 1104.2L1289.7 1106.1L1290.3 1104.8L1290.8 1106.0L1291.3 1106.0L1291.9 1105.1L1292.4 1105.4L1292.9 1105.6L1293.5 1106.0L1294.0 1106.6L1294.5 1106.9L1295.1 1106.1L1295.6 1107.4L1296.2 1105.7L1296.7 1107.5L1297.2 1106.2L1297.8 1106.6L1298.3 1106.0L1298.8 1106.0L1299.4 1105.2L1299.9 1106.2L1300.5 1107.3L1301.0 1106.1L1301.5 1105.7L1302.1 1105.9L1302.6 1106.4L1303.1 1105.8L1303.7 1105.7L1304.2 1105.7L1304.8 1106.3L1305.3 1106.0L1305.8 1104.7L1306.4 1105.0L1306.9 1105.2L1307.4 1106.0L1308.0 1106.3L1308.5 1105.8L1309.1 1107.4L1309.6 1105.8L1310.1 1107.0L1310.7 1107.1L1311.2 1107.3L1311.7 1106.3L1312.3 1106.5L1312.8 1104.8L1313.4 1104.8L1313.9 1105.7L1314.4 1106.4L1315.0 1106.6L1315.5 1106.0L1316.0 1106.7L1316.6 1106.4L1317.1 1107.1L1317.7 1104.9L1318.2 1105.6L1318.7 1105.8L1319.3 1105.7L1319.8 1107.4L1320.3 1105.6L1320.9 1106.0L1321.4 1106.3L1322.0 1107.2L1322.5 1105.9L1323.0 1106.6L1323.6 1106.5L1324.1 1105.8L1324.6 1104.7L1325.2 1105.4L1325.7 1105.3L1326.3 1107.1L1326.8 1105.9L1327.3 1105.5L1327.9 1106.4L1328.4 1106.0L1328.9 1105.5L1329.5 1107.0L1330.0 1106.8L1330.6 1106.2L1331.1 1105.6L1331.6 1105.5L1332.2 1105.0L1332.7 1107.0L1333.2 1106.7L1333.8 1105.9L1334.3 1106.5L1334.8 1108.8L1335.4 1105.7L1335.9 1105.2L1336.5 1106.6L1337.0 1105.8L1337.5 1105.9L1338.1 1106.2L1338.6 1105.8L1339.1 1106.5L1339.7 1106.2L1340.2 1106.8L1340.8 1106.1L1341.3 1104.6L1341.8 1106.8L1342.4 1105.1L1342.9 1107.1L1343.4 1106.5L1344.0 1105.4L1344.5 1106.2L1345.1 1106.6L1345.6 1105.3L1346.1 1106.1L1346.7 1105.5L1347.2 1105.2L1347.7 1105.7L1348.3 1106.9L1348.8 1106.7L1349.4 1106.4L1349.9 1106.5L1350.4 1106.8L1351.0 1106.8L1351.5 1106.8L1352.0 1105.4L1352.6 1107.3L1353.1 1106.3L1353.7 1105.2L1354.2 1107.0L1354.7 1105.4L1355.3 1106.1L1355.8 1106.2L1356.3 1106.0L1356.9 1106.8L1357.4 1106.2L1358.0 1106.0L1358.5 1105.7L1359.0 1106.5L1359.6 1106.2L1360.1 1106.8L1360.6 1107.4L1361.2 1107.0L1361.7 1106.2L1362.3 1105.1L1362.8 1106.8L1363.3 1106.6L1363.9 1107.4L1364.4 1104.5L1364.9 1106.1L1365.5 1106.3L1366.0 1107.3L1366.6 1105.9L1367.1 1106.3L1367.6 1108.1L1368.2 1107.2L1368.7 1105.3L1369.2 1106.8L1369.8 1107.5L1370.3 1106.3L1370.9 1107.1L1371.4 1106.7L1371.9 1105.5L1372.5 1106.1L1373.0 1107.3L1373.5 1107.4L1374.1 1106.3L1374.6 1107.5L1375.1 1106.3L1375.7 1107.1L1376.2 1107.0L1376.8 1106.2L1377.3 1107.3L1377.8 1106.6L1378.4 1104.8L1378.9 1106.2L1379.4 1106.3L1380.0 1106.3L1380.5 1106.2L1381.1 1106.4L1381.6 1105.2L1382.1 1107.3L1382.7 1106.9L1383.2 1106.9L1383.7 1106.4L1384.3 1106.4L1384.8 1106.3L1385.4 1105.5L1385.9 1105.5L1386.4 1106.8L1387.0 1107.6L1387.5 1107.0L1388.0 1108.0L1388.6 1106.0L1389.1 1106.7L1389.7 1106.6L1390.2 1107.6L1390.7 1108.0L1391.3 1106.1L1391.8 1107.0L1392.3 1106.4L1392.9 1105.8L1393.4 1106.4L1394.0 1105.8L1394.5 1107.6L1395.0 1106.7L1395.6 1107.2L1396.1 1106.7L1396.6 1104.9L1397.2 1107.0L1397.7 1106.7L1398.3 1104.9L1398.8 1106.6L1399.3 1107.3L1399.9 1107.8L1400.4 1106.1L1400.9 1107.3L1401.5 1107.0L1402.0 1106.7L1402.6 1106.9L1403.1 1107.5L1403.6 1107.5L1404.2 1107.6L1404.7 1106.8L1405.2 1106.1L1405.8 1107.9L1406.3 1107.8L1406.9 1106.5L1407.4 1106.9L1407.9 1107.6L1408.5 1105.8L1409.0 1107.5L1409.5 1108.7L1410.1 1107.4L1410.6 1106.6L1411.2 1108.4L1411.7 1106.9L1412.2 1107.2L1412.8 1106.7L1413.3 1106.9L1413.8 1105.6L1414.4 1105.6L1414.9 1105.8L1415.4 1107.3L1416.0 1106.5L1416.5 1107.2L1417.1 1105.0L1417.6 1105.9L1418.1 1107.3L1418.7 1106.1L1419.2 1105.5L1419.7 1106.2L1420.3 1106.4L1420.8 1106.6L1421.4 1107.6L1421.9 1107.7L1422.4 1108.0L1423.0 1107.1L1423.5 1106.3L1424.0 1106.4L1424.6 1105.9L1425.1 1107.7L1425.7 1107.6L1426.2 1106.9L1426.7 1106.1L1427.3 1107.1L1427.8 1106.8L1428.3 1106.4L1428.9 1105.5L1429.4 1106.5L1430.0 1106.0L1430.5 1106.9L1431.0 1106.8L1431.6 1106.7L1432.1 1106.2L1432.6 1107.8L1433.2 1107.1L1433.7 1107.5L1434.3 1107.2L1434.8 1107.2L1435.3 1107.2L1435.9 1106.3L1436.4 1106.0L1436.9 1106.5L1437.5 1107.6L1438.0 1107.7L1438.6 1107.1L1439.1 1106.9L1439.6 1107.8L1440.2 1106.2L1440.7 1105.1L1441.2 1105.3L1441.8 1106.2L1442.3 1107.1L1442.9 1107.1L1443.4 1106.4L1443.9 1107.1L1444.5 1106.5L1445.0 1105.9L1445.5 1106.2L1446.1 1107.0L1446.6 1106.9L1447.2 1105.6L1447.7 1105.8L1448.2 1106.7L1448.8 1108.2L1449.3 1106.0L1449.8 1105.7L1450.4 1106.6L1450.9 1106.8L1451.5 1106.1L1452.0 1106.6L1452.5 1106.9L1453.1 1105.3L1453.6 1106.5L1454.1 1107.1L1454.7 1107.5L1455.2 1107.6L1455.7 1106.7L1456.3 1105.6L1456.8 1107.6L1457.4 1107.2L1457.9 1106.1L1458.4 1107.2L1459.0 1107.2L1459.5 1106.4L1460.0 1104.8L1460.6 1106.2L1461.1 1105.9L1461.7 1105.8L1462.2 1106.7L1462.7 1106.1L1463.3 1107.1L1463.8 1108.2L1464.3 1106.3L1464.9 1107.5L1465.4 1106.4L1466.0 1107.3L1466.5 1106.8L1467.0 1107.6L1467.6 1106.0L1468.1 1107.1L1468.6 1105.7L1469.2 1106.7L1469.7 1106.6L1470.3 1107.2L1470.8 1105.3L1471.3 1105.7L1471.9 1107.6L1472.4 1107.0L1472.9 1108.2L1473.5 1106.2L1474.0 1107.0L1474.6 1107.3L1475.1 1108.1L1475.6 1106.8L1476.2 1106.5L1476.7 1107.3L1477.2 1106.6L1477.8 1106.4L1478.3 1107.4L1478.9 1105.7L1479.4 1106.4L1479.9 1108.1L1480.5 1106.8L1481.0 1107.0L1481.5 1107.5L1482.1 1107.8L1482.6 1107.4L1483.2 1106.3L1483.7 1106.5L1484.2 1107.6L1484.8 1106.7L1485.3 1106.1L1485.8 1106.8L1486.4 1107.1L1486.9 1107.6L1487.5 1105.5L1488.0 1105.8L1488.5 1105.8L1489.1 1106.6L1489.6 1106.3L1490.1 1107.5L1490.7 1105.0L1491.2 1107.7L1491.8 1106.7L1492.3 1106.7L1492.8 1107.2L1493.4 1107.1L1493.9 1106.3L1494.4 1107.9L1495.0 1107.2L1495.5 1106.4L1496.0 1106.8L1496.6 1106.0L1497.1 1105.7L1497.7 1106.3L1498.2 1106.6L1498.7 1106.7L1499.3 1106.1L1499.8 1105.7L1500.3 1105.3L1500.9 1107.5L1501.4 1106.9L1502.0 1105.8L1502.5 1107.5L1503.0 1106.8L1503.6 1106.0L1504.1 1105.9L1504.6 1107.2L1505.2 1106.8L1505.7 1107.6L1506.3 1106.8L1506.8 1106.0L1507.3 1106.0L1507.9 1105.8L1508.4 1106.6L1508.9 1106.6L1509.5 1106.7L1510.0 1106.6L1510.6 1105.6L1511.1 1106.2L1511.6 1105.8L1512.2 1107.1L1512.7 1105.6L1513.2 1106.1L1513.8 1105.8L1514.3 1106.0L1514.9 1106.4L1515.4 1107.5L1515.9 1106.3L1516.5 1105.3L1517.0 1106.3L1517.5 1106.9L1518.1 1106.7L1518.6 1106.6L1519.2 1107.6L1519.7 1107.1L1520.2 1106.5L1520.8 1107.2L1521.3 1105.4L1521.8 1106.3L1522.4 1106.0L1522.9 1106.6L1523.5 1107.7L1524.0 1106.6L1524.5 1107.8L1525.1 1106.3L1525.6 1107.8L1526.1 1105.8L1526.7 1106.3L1527.2 1107.6L1527.8 1106.8L1528.3 1106.6L1528.8 1106.4L1529.4 1106.3L1529.9 1106.4L1530.4 1105.9L1531.0 1106.3L1531.5 1106.5L1532.1 1105.8L1532.6 1106.7L1533.1 1107.9L1533.7 1105.7L1534.2 1106.3L1534.7 1106.3L1535.3 1106.4L1535.8 1106.7L1536.3 1106.3L1536.9 1106.8L1537.4 1106.7L1538.0 1106.5L1538.5 1107.6L1539.0 1106.6L1539.6 1105.6L1540.1 1105.4L1540.6 1106.9L1541.2 1106.4L1541.7 1106.1L1542.3 1105.8L1542.8 1106.6L1543.3 1106.9L1543.9 1106.6L1544.4 1106.7L1544.9 1107.4L1545.5 1107.1L1546.0 1107.1L1546.6 1106.4L1547.1 1105.6L1547.6 1107.2L1548.2 1107.7L1548.7 1107.6L1549.2 1107.5L1549.8 1107.0L1550.3 1107.1L1550.9 1106.6L1551.4 1107.4L1551.9 1106.1L1552.5 1107.6L1553.0 1106.7L1553.5 1105.9L1554.1 1106.4L1554.6 1105.3L1555.2 1106.2L1555.7 1106.5L1556.2 1108.5L1556.8 1106.4L1557.3 1107.7L1557.8 1107.1L1558.4 1106.7L1558.9 1107.3L1559.5 1105.4L1560.0 1107.2L1560.5 1107.9L1561.1 1106.9L1561.6 1106.6L1562.1 1106.8L1562.7 1107.2L1563.2 1106.6L1563.8 1106.9L1564.3 1107.1L1564.8 1106.6L1565.4 1106.9L1565.9 1106.9L1566.4 1107.0L1567.0 1106.0L1567.5 1106.1L1568.1 1106.3L1568.6 1107.7L1569.1 1106.8L1569.7 1105.8L1570.2 1105.9L1570.7 1107.9L1571.3 1106.8L1571.8 1105.8L1572.4 1106.0L1572.9 1106.3L1573.4 1107.3L1574.0 1107.2L1574.5 1105.9L1575.0 1106.1L1575.6 1107.3L1576.1 1105.2L1576.6 1107.2L1577.2 1106.8L1577.7 1106.6L1578.3 1107.3L1578.8 1106.9L1579.3 1106.1L1579.9 1105.9L1580.4 1106.9L1580.9 1107.0L1581.5 1107.5L1582.0 1105.0L1582.6 1107.8L1583.1 1107.4L1583.6 1108.0L1584.2 1107.4L1584.7 1107.3L1585.2 1107.3L1585.8 1107.3L1586.3 1106.6L1586.9 1106.7L1587.4 1106.8L1587.9 1106.1L1588.5 1105.4L1589.0 1105.3L1589.5 1106.6L1590.1 1106.6L1590.6 1106.1L1591.2 1105.3L1591.7 1106.7L1592.2 1106.0L1592.8 1105.0L1593.3 1107.6L1593.8 1105.5L1594.4 1107.9L1594.9 1106.9L1595.5 1106.3L1596.0 1105.0L1596.5 1106.1L1597.1 1107.6L1597.6 1107.2L1598.1 1106.6L1598.7 1105.4L1599.2 1106.4L1599.8 1106.7L1600.3 1107.1L1600.8 1106.8L1601.4 1107.0L1601.9 1105.9L1602.4 1106.3L1603.0 1107.7L1603.5 1105.6L1604.1 1107.1L1604.6 1108.2L1605.1 1107.1L1605.7 1105.6L1606.2 1107.4L1606.7 1105.1L1607.3 1106.6L1607.8 1106.2L1608.4 1107.3L1608.9 1107.1L1609.4 1106.3L1610.0 1107.4L1610.5 1107.0L1611.0 1106.3L1611.6 1106.0L1612.1 1108.0L1612.7 1106.0L1613.2 1106.6L1613.7 1106.3L1614.3 1105.9L1614.8 1105.0L1615.3 1106.1L1615.9 1105.9L1616.4 1106.8L1616.9 1105.7L1617.5 1104.9L1618.0 1105.3L1618.6 1106.2L1619.1 1106.3L1619.6 1106.6L1620.2 1105.9L1620.7 1106.6L1621.2 1106.6L1621.8 1107.7L1622.3 1106.3L1622.9 1106.3L1623.4 1106.7L1623.9 1106.9L1624.5 1105.5L1625.0 1106.0L1625.5 1106.0L1626.1 1104.6L1626.6 1107.3L1627.2 1107.1L1627.7 1106.5L1628.2 1108.8L1628.8 1107.5L1629.3 1107.9L1629.8 1107.6L1630.4 1107.5L1630.9 1105.7L1631.5 1107.7L1632.0 1106.9L1632.5 1105.7L1633.1 1106.5L1633.6 1107.0L1634.1 1107.1L1634.7 1106.3L1635.2 1105.9L1635.8 1106.9L1636.3 1105.7L1636.8 1106.3L1637.4 1106.9L1637.9 1105.5L1638.4 1106.6L1639.0 1105.1L1639.5 1105.8L1640.1 1105.3L1640.6 1106.1L1641.1 1106.4L1641.7 1106.1L1642.2 1106.4L1642.7 1106.0L1643.3 1105.8L1643.8 1106.3L1644.4 1106.2L1644.9 1106.5L1645.4 1107.2L1646.0 1106.0L1646.5 1107.4L1647.0 1105.9L1647.6 1106.3L1648.1 1105.2L1648.7 1105.9L1649.2 1107.4L1649.7 1106.4L1650.3 1106.8L1650.8 1104.9L1651.3 1105.1L1651.9 1106.1L1652.4 1106.1L1653.0 1106.1L1653.5 1104.3L1654.0 1106.1L1654.6 1105.6L1655.1 1105.7L1655.6 1106.1L1656.2 1105.6L1656.7 1105.1L1657.2 1105.6L1657.8 1105.3L1658.3 1105.3L1658.9 1106.3L1659.4 1107.2L1659.9 1105.9L1660.5 1105.8L1661.0 1105.3L1661.5 1104.7L1662.1 1106.0L1662.6 1105.6L1663.2 1105.8L1663.7 1105.6L1664.2 1106.4L1664.8 1105.3L1665.3 1106.6L1665.8 1105.8L1666.4 1106.8L1666.9 1105.5L1667.5 1106.4L1668.0 1106.3L1668.5 1105.9L1669.1 1107.1L1669.6 1106.0L1670.1 1105.2L1670.7 1106.2L1671.2 1105.1L1671.8 1105.3L1672.3 1105.6L1672.8 1105.8L1673.4 1106.8L1673.9 1104.4L1674.4 1105.5L1675.0 1106.4L1675.5 1105.4L1676.1 1105.6L1676.6 1106.3L1677.1 1104.3L1677.7 1105.0L1678.2 1105.5L1678.7 1104.4L1679.3 1103.6L1679.8 1104.2L1680.4 1104.8L1680.9 1104.9L1681.4 1106.0L1682.0 1105.7L1682.5 1103.4L1683.0 1105.1L1683.6 1105.0L1684.1 1105.2L1684.7 1104.1L1685.2 1103.7L1685.7 1104.2L1686.3 1104.9L1686.8 1104.5L1687.3 1105.2L1687.9 1104.3L1688.4 1103.6L1689.0 1103.2L1689.5 1105.0L1690.0 1102.5L1690.6 1103.4L1691.1 1103.2L1691.6 1102.7L1692.2 1102.8L1692.7 1102.8L1693.3 1104.2L1693.8 1102.3L1694.3 1101.6L1694.9 1101.7L1695.4 1101.8L1695.9 1100.0L1696.5 1099.4L1697.0 1097.8L1697.5 1098.7L1698.1 1097.6L1698.6 1096.7L1699.2 1093.1L1699.7 1092.6L1700.2 1087.2L1700.8 1079.2L1701.3 1067.4L1701.8 1049.3L1702.4 1023.4L1702.9 993.2L1703.5 957.0L1704.0 925.1L1704.5 907.4L1705.1 909.7L1705.6 930.5L1706.1 961.8L1706.7 991.8L1707.2 1015.7L1707.8 1027.6L1708.3 1028.3L1708.8 1022.2L1709.4 1011.9L1709.9 1001.0L1710.4 999.7L1711.0 1006.3L1711.5 1021.9L1712.1 1038.5L1712.6 1057.6L1713.1 1071.2L1713.7 1081.7L1714.2 1088.6L1714.7 1093.4L1715.3 1095.6L1715.8 1098.4L1716.4 1099.2L1716.9 1099.4L1717.4 1100.2L1718.0 1101.7L1718.5 1102.4L1719.0 1100.5L1719.6 1100.9L1720.1 1103.3L1720.7 1102.6L1721.2 1104.6L1721.7 1101.9L1722.3 1103.2L1722.8 1103.0L1723.3 1104.1L1723.9 1104.7L1724.4 1104.7L1725.0 1103.4L1725.5 1105.2L1726.0 1103.4L1726.6 1104.6L1727.1 1104.7L1727.6 1105.1L1728.2 1104.7L1728.7 1106.0L1729.3 1105.1L1729.8 1105.0L1730.3 1105.2L1730.9 1104.8L1731.4 1106.2L1731.9 1106.1L1732.5 1106.1L1733.0 1107.5L1733.6 1105.7L1734.1 1106.2L1734.6 1106.2L1735.2 1106.6L1735.7 1105.6L1736.2 1106.5L1736.8 1106.1L1737.3 1104.3L1737.8 1105.0L1738.4 1104.1L1738.9 1105.3L1739.5 1105.5L1740.0 1106.3L1740.5 1105.8L1741.1 1105.6L1741.6 1106.8L1742.1 1106.3L1742.7 1105.1L1743.2 1105.8L1743.8 1106.3L1744.3 1107.2L1744.8 1106.2L1745.4 1106.4L1745.9 1106.7L1746.4 1107.2L1747.0 1106.7L1747.5 1106.7L1748.1 1106.4L1748.6 1106.5L1749.1 1106.3L1749.7 1107.1L1750.2 1106.2L1750.7 1106.8L1751.3 1106.8L1751.8 1107.2L1752.4 1104.5L1752.9 1105.6L1753.4 1105.6L1754.0 1106.5L1754.5 1107.1L1755.0 1108.3L1755.6 1107.6L1756.1 1107.4L1756.7 1106.8L1757.2 1106.4L1757.7 1106.8L1758.3 1104.7L1758.8 1107.0L1759.3 1106.4L1759.9 1106.8L1760.4 1105.6L1761.0 1105.4L1761.5 1105.4L1762.0 1105.8L1762.6 1106.1L1763.1 1105.2L1763.6 1105.8L1764.2 1105.9L1764.7 1104.7L1765.3 1105.6L1765.8 1104.5L1766.3 1105.3L1766.9 1106.4L1767.4 1105.6L1767.9 1107.2L1768.5 1106.4L1769.0 1106.8L1769.6 1106.2L1770.1 1106.8L1770.6 1106.7L1771.2 1106.1L1771.7 1105.7L1772.2 1105.7L1772.8 1107.4L1773.3 1106.0L1773.9 1105.8L1774.4 1106.0L1774.9 1105.3L1775.5 1106.1L1776.0 1106.5L1776.5 1106.0L1777.1 1105.7L1777.6 1106.4L1778.1 1106.3L1778.7 1105.5L1779.2 1106.4L1779.8 1105.7L1780.3 1106.9L1780.8 1105.8L1781.4 1106.2L1781.9 1106.3L1782.4 1105.9L1783.0 1105.5L1783.5 1107.6L1784.1 1107.1L1784.6 1104.7L1785.1 1105.9L1785.7 1105.0L1786.2 1106.2L1786.7 1105.3L1787.3 1106.5L1787.8 1106.2L1788.4 1106.9L1788.9 1106.6L1789.4 1105.5L1790.0 1106.7L1790.5 1105.9L1791.0 1106.4L1791.6 1106.0L1792.1 1105.3L1792.7 1106.9L1793.2 1105.1L1793.7 1106.4L1794.3 1106.8L1794.8 1106.7L1795.3 1105.2L1795.9 1105.9L1796.4 1106.8L1797.0 1107.2L1797.5 1107.5L1798.0 1105.2L1798.6 1106.9L1799.1 1106.0L1799.6 1107.0L1800.2 1105.5L1800.7 1106.4L1801.3 1107.0L1801.8 1106.1L1802.3 1106.1L1802.9 1105.6L1803.4 1107.2L1803.9 1105.4L1804.5 1105.7L1805.0 1106.3L1805.6 1106.4L1806.1 1108.2L1806.6 1107.1L1807.2 1106.1L1807.7 1107.0L1808.2 1106.9L1808.8 1106.5L1809.3 1106.4L1809.9 1106.7L1810.4 1105.4L1810.9 1105.1L1811.5 1105.8L1812.0 1105.4L1812.5 1106.6L1813.1 1107.7L1813.6 1106.9L1814.2 1106.3L1814.7 1106.3L1815.2 1105.8L1815.8 1105.4L1816.3 1106.6L1816.8 1105.3L1817.4 1106.6L1817.9 1106.5L1818.4 1107.3L1819.0 1106.9L1819.5 1106.9L1820.1 1106.3L1820.6 1105.5L1821.1 1106.5L1821.7 1107.2L1822.2 1107.3L1822.7 1107.3L1823.3 1105.5L1823.8 1105.6L1824.4 1106.9L1824.9 1106.2L1825.4 1108.1L1826.0 1106.5L1826.5 1105.3L1827.0 1106.0L1827.6 1107.6L1828.1 1105.3L1828.7 1106.4L1829.2 1105.2L1829.7 1107.5L1830.3 1106.2L1830.8 1105.6L1831.3 1105.2L1831.9 1105.9L1832.4 1104.7L1833.0 1106.2L1833.5 1108.3L1834.0 1106.8L1834.6 1106.4L1835.1 1106.0L1835.6 1107.1L1836.2 1106.5L1836.7 1106.2L1837.3 1107.6L1837.8 1106.7L1838.3 1105.8L1838.9 1107.7L1839.4 1106.4L1839.9 1107.0L1840.5 1106.7L1841.0 1107.3L1841.6 1107.1L1842.1 1106.6L1842.6 1107.2L1843.2 1106.1L1843.7 1106.6L1844.2 1107.4L1844.8 1105.6L1845.3 1105.5L1845.9 1105.9L1846.4 1105.7L1846.9 1106.9L1847.5 1105.1L1848.0 1107.7L1848.5 1107.3L1849.1 1105.7L1849.6 1106.4L1850.2 1105.9L1850.7 1106.7L1851.2 1106.9L1851.8 1107.2L1852.3 1107.3L1852.8 1108.2L1853.4 1106.9L1853.9 1107.4L1854.5 1106.9L1855.0 1107.1L1855.5 1107.3L1856.1 1106.9L1856.6 1106.9L1857.1 1106.2L1857.7 1106.8L1858.2 1106.3L1858.7 1106.1L1859.3 1106.5L1859.8 1106.6L1860.4 1106.9L1860.9 1106.0L1861.4 1106.7L1862.0 1106.2L1862.5 1106.8L1863.0 1107.4L1863.6 1107.9L1864.1 1107.4L1864.7 1106.8L1865.2 1106.9L1865.7 1108.3L1866.3 1106.1L1866.8 1107.5L1867.3 1105.7L1867.9 1106.4L1868.4 1106.8L1869.0 1106.8L1869.5 1107.9L1870.0 1107.0L1870.6 1106.7L1871.1 1107.5L1871.6 1106.9L1872.2 1106.2L1872.7 1107.4L1873.3 1107.5L1873.8 1107.5L1874.3 1105.7L1874.9 1107.8L1875.4 1106.2L1875.9 1106.9L1876.5 1107.4L1877.0 1108.2L1877.6 1105.7L1878.1 1106.1L1878.6 1107.6L1879.2 1107.1L1879.7 1106.5L1880.2 1104.7L1880.8 1106.9L1881.3 1106.7L1881.9 1104.9L1882.4 1108.7L1882.9 1105.3L1883.5 1106.5L1884.0 1106.7L1884.5 1107.0L1885.1 1107.2L1885.6 1106.4L1886.2 1106.1L1886.7 1106.3L1887.2 1105.1L1887.8 1105.9L1888.3 1108.3L1888.8 1106.3L1889.4 1106.9L1889.9 1108.1L1890.5 1107.6L1891.0 1106.8L1891.5 1107.3L1892.1 1106.5L1892.6 1106.0L1893.1 1107.2L1893.7 1106.7L1894.2 1107.8L1894.8 1106.4L1895.3 1106.3L1895.8 1106.9L1896.4 1106.6L1896.9 1106.6L1897.4 1106.4L1898.0 1107.2L1898.5 1107.0L1899.0 1107.8L1899.6 1106.7L1900.1 1105.4L1900.7 1107.2L1901.2 1108.4L1901.7 1106.5L1902.3 1106.3L1902.8 1107.1L1903.3 1105.6L1903.9 1107.3L1904.4 1107.4L1905.0 1106.3L1905.5 1107.7L1906.0 1106.7L1906.6 1105.8L1907.1 1106.5L1907.6 1107.3L1908.2 1108.1L1908.7 1107.7L1909.3 1106.9L1909.8 1106.5L1910.3 1106.5L1910.9 1107.4L1911.4 1106.4L1911.9 1106.8L1912.5 1107.4L1913.0 1106.1L1913.6 1106.5L1914.1 1107.2L1914.6 1107.2L1915.2 1107.2L1915.7 1106.8L1916.2 1107.2L1916.8 1108.3L1917.3 1108.0L1917.9 1105.8L1918.4 1107.1L1918.9 1106.9L1919.5 1107.0L1920.0 1106.1L1920.5 1107.0L1921.1 1107.3L1921.6 1106.7L1922.2 1107.3L1922.7 1105.2L1923.2 1106.0L1923.8 1106.7L1924.3 1107.0L1924.8 1106.5L1925.4 1106.2L1925.9 1106.7L1926.5 1107.4L1927.0 1107.2L1927.5 1106.8L1928.1 1106.8L1928.6 1107.8L1929.1 1107.6L1929.7 1107.9L1930.2 1106.8L1930.8 1106.2L1931.3 1106.8L1931.8 1106.2L1932.4 1107.4L1932.9 1107.2L1933.4 1105.1L1934.0 1107.1L1934.5 1107.8L1935.1 1108.0L1935.6 1107.1L1936.1 1106.8L1936.7 1108.1L1937.2 1108.2L1937.7 1107.6L1938.3 1106.6L1938.8 1106.2L1939.3 1107.2L1939.9 1106.2L1940.4 1106.1L1941.0 1107.0L1941.5 1107.4L1942.0 1105.5L1942.6 1106.5L1943.1 1108.2L1943.6 1107.4L1944.2 1107.2L1944.7 1108.1L1945.3 1106.7L1945.8 1106.5L1946.3 1107.4L1946.9 1108.6L1947.4 1108.0L1947.9 1107.4L1948.5 1108.2L1949.0 1107.1L1949.6 1106.6L1950.1 1106.4L1950.6 1107.6L1951.2 1107.8L1951.7 1107.4L1952.2 1107.0L1952.8 1106.7L1953.3 1107.9L1953.9 1107.2L1954.4 1106.3L1954.9 1108.1L1955.5 1106.7L1956.0 1107.6L1956.5 1107.5L1957.1 1108.1L1957.6 1107.5L1958.2 1108.1L1958.7 1107.6L1959.2 1107.0L1959.8 1106.9L1960.3 1108.0L1960.8 1106.9L1961.4 1107.9L1961.9 1107.0L1962.5 1106.4L1963.0 1106.2L1963.5 1106.9L1964.1 1108.4L1964.6 1107.5L1965.1 1107.0L1965.7 1106.7L1966.2 1108.6L1966.8 1107.2L1967.3 1107.5L1967.8 1107.2L1968.4 1108.2L1968.9 1107.3L1969.4 1106.7L1970.0 1106.9L1970.5 1106.0L1971.1 1106.0L1971.6 1106.6L1972.1 1104.7L1972.7 1107.7L1973.2 1108.3L1973.7 1106.2L1974.3 1106.9L1974.8 1106.0L1975.4 1107.2L1975.9 1107.2L1976.4 1107.6L1977.0 1105.9L1977.5 1106.4L1978.0 1106.4L1978.6 1106.9L1979.1 1108.7L1979.6 1106.9L1980.2 1107.1L1980.7 1106.8L1981.3 1107.9L1981.8 1109.1L1982.3 1108.1L1982.9 1108.2L1983.4 1106.5L1983.9 1108.1L1984.5 1107.4L1985.0 1108.1L1985.6 1108.0L1986.1 1108.0L1986.6 1106.4L1987.2 1107.6L1987.7 1107.1L1988.2 1107.8L1988.8 1107.2L1989.3 1108.1L1989.9 1105.8L1990.4 1106.3L1990.9 1106.9L1991.5 1107.4L1992.0 1106.7L1992.5 1107.1L1993.1 1107.5L1993.6 1108.1L1994.2 1107.5L1994.7 1107.9L1995.2 1106.3L1995.8 1105.6L1996.3 1106.5L1996.8 1107.7L1997.4 1105.6L1997.9 1107.6L1998.5 1107.2L1999.0 1107.2L1999.5 1106.5L2000.1 1106.6L2000.6 1107.5L2001.1 1107.2L2001.7 1106.9L2002.2 1106.5L2002.8 1107.1L2003.3 1107.8L2003.8 1107.1L2004.4 1107.0L2004.9 1106.5L2005.4 1107.4L2006.0 1106.9L2006.5 1106.5L2007.1 1108.3L2007.6 1107.2L2008.1 1106.3L2008.7 1107.1L2009.2 1108.9L2009.7 1107.1L2010.3 1106.3L2010.8 1106.4L2011.4 1107.3L2011.9 1107.0L2012.4 1106.9L2013.0 1106.7L2013.5 1107.0L2014.0 1108.2L2014.6 1107.4L2015.1 1106.9L2015.7 1106.3L2016.2 1107.6L2016.7 1108.1L2017.3 1107.3L2017.8 1106.3L2018.3 1107.2L2018.9 1107.9L2019.4 1106.7L2019.9 1107.4L2020.5 1108.1L2021.0 1108.6L2021.6 1106.5L2022.1 1106.1L2022.6 1107.4L2023.2 1107.7L2023.7 1106.8L2024.2 1107.1L2024.8 1106.7L2025.3 1108.0L2025.9 1105.5L2026.4 1107.3L2026.9 1106.4L2027.5 1106.9L2028.0 1106.3L2028.5 1106.6L2029.1 1107.2L2029.6 1106.9L2030.2 1108.3L2030.7 1107.1L2031.2 1107.6L2031.8 1107.6L2032.3 1107.6L2032.8 1108.6L2033.4 1107.9L2033.9 1108.1L2034.5 1107.8L2035.0 1108.0L2035.5 1107.6L2036.1 1108.1L2036.6 1107.3L2037.1 1107.4L2037.7 1107.3L2038.2 1107.9L2038.8 1107.0L2039.3 1107.8L2039.8 1107.0L2040.4 1107.9L2040.9 1108.9L2041.4 1107.6L2042.0 1107.4L2042.5 1106.9L2043.1 1108.0L2043.6 1107.5L2044.1 1108.1L2044.7 1107.2L2045.2 1108.1L2045.7 1109.1L2046.3 1108.1L2046.8 1107.3L2047.4 1106.6L2047.9 1107.6L2048.4 1108.2L2049.0 1108.0L2049.5 1106.8L2050.0 1106.9L2050.6 1106.6L2051.1 1106.7L2051.7 1107.3L2052.2 1107.6L2052.7 1108.6L2053.3 1107.4L2053.8 1108.0L2054.3 1105.8L2054.9 1108.3L2055.4 1107.7L2056.0 1107.3L2056.5 1107.7L2057.0 1107.8L2057.6 1108.8L2058.1 1108.2L2058.6 1106.3L2059.2 1106.1L2059.7 1108.5L2060.2 1107.7L2060.8 1108.3L2061.3 1107.0L2061.9 1106.6L2062.4 1106.9L2062.9 1107.5L2063.5 1107.8L2064.0 1107.1L2064.5 1107.9L2065.1 1108.2L2065.6 1107.1L2066.2 1107.0L2066.7 1106.3L2067.2 1107.5L2067.8 1107.4L2068.3 1106.9L2068.8 1106.9L2069.4 1107.0L2069.9 1107.1L2070.5 1107.4L2071.0 1107.9L2071.5 1107.5L2072.1 1108.1L2072.6 1106.6L2073.1 1107.4L2073.7 1107.6L2074.2 1106.6L2074.8 1106.8L2075.3 1107.4L2075.8 1107.2L2076.4 1106.1L2076.9 1106.6L2077.4 1108.3L2078.0 1107.5L2078.5 1107.1L2079.1 1108.2L2079.6 1106.7L2080.1 1107.1L2080.7 1108.1L2081.2 1107.2L2081.7 1106.7L2082.3 1108.0L2082.8 1108.5L2083.4 1105.7L2083.9 1107.8L2084.4 1106.8L2085.0 1107.5L2085.5 1106.9L2086.0 1109.7L2086.6 1107.4L2087.1 1107.9L2087.7 1107.4L2088.2 1107.0L2088.7 1107.4L2089.3 1107.8L2089.8 1108.8L2090.3 1107.8L2090.9 1108.7L2091.4 1107.0L2092.0 1107.9L2092.5 1107.3L2093.0 1106.5L2093.6 1110.2L2094.1 1107.2L2094.6 1107.4L2095.2 1106.8L2095.7 1106.9L2096.3 1106.2L2096.8 1107.7L2097.3 1106.6L2097.9 1106.9L2098.4 1107.2L2098.9 1106.1L2099.5 1107.2L2100.0 1106.8L2100.5 1107.4L2101.1 1106.9L2101.6 1107.2L2102.2 1107.5L2102.7 1107.9L2103.2 1106.9L2103.8 1107.8L2104.3 1106.4L2104.8 1107.1L2105.4 1107.4L2105.9 1107.5L2106.5 1105.8L2107.0 1107.0L2107.5 1107.4L2108.1 1108.2L2108.6 1107.0L2109.1 1108.5L2109.7 1106.2L2110.2 1107.5L2110.8 1107.5L2111.3 1106.9L2111.8 1107.0L2112.4 1107.5L2112.9 1106.4L2113.4 1107.2L2114.0 1107.6L2114.5 1106.6L2115.1 1105.2L2115.6 1106.3L2116.1 1106.7L2116.7 1106.6L2117.2 1107.7L2117.7 1107.1L2118.3 1109.1L2118.8 1107.8L2119.4 1106.4L2119.9 1106.8L2120.4 1108.1L2121.0 1107.7L2121.5 1106.5L2122.0 1107.8L2122.6 1106.6L2123.1 1108.5L2123.7 1106.6L2124.2 1107.5L2124.7 1107.3L2125.3 1106.6L2125.8 1106.6L2126.3 1107.7L2126.9 1107.5L2127.4 1106.9L2128.0 1107.4L2128.5 1108.5L2129.0 1108.0L2129.6 1107.5L2130.1 1107.6L2130.6 1105.9L2131.2 1107.0L2131.7 1106.5L2132.3 1107.1L2132.8 1105.9L2133.3 1106.7L2133.9 1105.9L2134.4 1106.9L2134.9 1105.8L2135.5 1106.2L2136.0 1106.8L2136.6 1106.1L2137.1 1106.4L2137.6 1106.9L2138.2 1107.3L2138.7 1104.8L2139.2 1105.5L2139.8 1106.4L2140.3 1106.2L2140.8 1105.3L2141.4 1105.6L2141.9 1105.2L2142.5 1106.6L2143.0 1104.7L2143.5 1103.6L2144.1 1103.3L2144.6 1103.1L2145.1 1104.0L2145.7 1101.6L2146.2 1101.3L2146.8 1097.5L2147.3 1093.0L2147.8 1087.8L2148.4 1081.5L2148.9 1074.4L2149.4 1065.9L2150.0 1059.8L2150.5 1055.5L2151.1 1054.9L2151.6 1057.3L2152.1 1062.1L2152.7 1069.0L2153.2 1078.0L2153.7 1084.9L2154.3 1088.5L2154.8 1093.6L2155.4 1096.0L2155.9 1096.9L2156.4 1097.8L2157.0 1096.2L2157.5 1095.1L2158.0 1091.4L2158.6 1087.7L2159.1 1083.1L2159.7 1082.9L2160.2 1082.6L2160.7 1082.4L2161.3 1085.5L2161.8 1088.5L2162.3 1090.3L2162.9 1094.9L2163.4 1098.5L2164.0 1101.3L2164.5 1102.8L2165.0 1104.1L2165.6 1104.9L2166.1 1105.6L2166.6 1106.1L2167.2 1105.4L2167.7 1106.5L2168.3 1106.0L2168.8 1106.6L2169.3 1105.9L2169.9 1106.5L2170.4 1106.5L2170.9 1107.0L2171.5 1106.8L2172.0 1107.4L2172.6 1106.9L2173.1 1106.9L2173.6 1106.9L2174.2 1106.3L2174.7 1107.3L2175.2 1108.2L2175.8 1108.1L2176.3 1106.8L2176.9 1107.4L2177.4 1108.0L2177.9 1106.5L2178.5 1107.9L2179.0 1107.7L2181.0 1107.7" fill="none" stroke="#ff0000" stroke-width="8" stroke-linejoin="round" stroke-linecap="butt"/>
<path d="M164.0 1255.3L164.5 1255.6L165.1 1254.9L165.6 1255.3L166.1 1254.8L166.7 1254.9L167.2 1255.2L167.8 1255.6L168.3 1254.9L168.8 1254.5L169.4 1255.5L169.9 1256.1L170.4 1253.9L171.0 1254.6L171.5 1255.0L172.1 1255.1L172.6 1254.6L173.1 1255.3L173.7 1255.8L174.2 1255.3L174.7 1255.7L175.3 1255.4L175.8 1254.9L176.4 1255.0L176.9 1254.8L177.4 1255.5L178.0 1255.3L178.5 1254.9L179.0 1254.2L179.6 1254.6L180.1 1254.6L180.7 1254.1L181.2 1255.0L181.7 1255.2L182.3 1254.5L182.8 1254.7L183.3 1254.8L183.9 1255.8L184.4 1255.3L185.0 1255.1L185.5 1254.8L186.0 1254.1L186.6 1255.2L187.1 1254.4L187.6 1253.6L188.2 1254.8L188.7 1254.3L189.3 1254.5L189.8 1254.8L190.3 1254.4L190.9 1254.7L191.4 1255.3L191.9 1254.7L192.5 1254.7L193.0 1255.0L193.6 1255.3L194.1 1254.8L194.6 1255.1L195.2 1254.7L195.7 1254.9L196.2 1255.3L196.8 1254.6L197.3 1254.8L197.9 1254.2L198.4 1254.6L198.9 1254.9L199.5 1255.2L200.0 1254.6L200.5 1254.8L201.1 1254.5L201.6 1255.1L202.2 1255.1L202.7 1255.3L203.2 1255.2L203.8 1254.6L204.3 1254.9L204.8 1254.6L205.4 1254.8L205.9 1255.1L206.4 1255.6L207.0 1254.8L207.5 1254.7L208.1 1255.0L208.6 1254.0L209.1 1255.8L209.7 1254.3L210.2 1255.5L210.7 1255.5L211.3 1255.5L211.8 1254.8L212.4 1255.2L212.9 1254.6L213.4 1255.2L214.0 1254.4L214.5 1254.3L215.0 1254.7L215.6 1254.4L216.1 1255.1L216.7 1254.5L217.2 1255.2L217.7 1254.7L218.3 1255.2L218.8 1256.2L219.3 1254.8L219.9 1254.6L220.4 1254.5L221.0 1255.1L221.5 1255.8L222.0 1254.9L222.6 1255.5L223.1 1254.8L223.6 1254.6L224.2 1255.7L224.7 1255.3L225.3 1254.1L225.8 1254.5L226.3 1255.0L226.9 1255.2L227.4 1254.9L227.9 1255.2L228.5 1255.4L229.0 1255.0L229.6 1255.6L230.1 1254.9L230.6 1255.6L231.2 1255.6L231.7 1255.1L232.2 1254.9L232.8 1255.1L233.3 1254.1L233.9 1255.1L234.4 1254.3L234.9 1254.2L235.5 1255.5L236.0 1254.9L236.5 1255.4L237.1 1255.3L237.6 1254.6L238.2 1255.0L238.7 1255.2L239.2 1255.4L239.8 1255.2L240.3 1254.6L240.8 1254.8L241.4 1255.1L241.9 1254.3L242.5 1254.7L243.0 1254.6L243.5 1253.9L244.1 1255.7L244.6 1255.3L245.1 1254.8L245.7 1255.5L246.2 1254.5L246.7 1255.6L247.3 1254.7L247.8 1255.1L248.4 1254.6L248.9 1254.9L249.4 1255.0L250.0 1254.8L250.5 1254.7L251.0 1255.3L251.6 1255.2L252.1 1255.1L252.7 1255.5L253.2 1254.7L253.7 1255.5L254.3 1255.0L254.8 1255.6L255.3 1254.7L255.9 1254.9L256.4 1255.1L257.0 1255.5L257.5 1255.7L258.0 1254.9L258.6 1254.9L259.1 1255.5L259.6 1255.9L260.2 1255.6L260.7 1255.1L261.3 1255.7L261.8 1255.1L262.3 1255.3L262.9 1255.2L263.4 1254.7L263.9 1253.7L264.5 1254.7L265.0 1255.0L265.6 1254.9L266.1 1255.0L266.6 1254.8L267.2 1255.1L267.7 1254.7L268.2 1255.5L268.8 1254.9L269.3 1255.2L269.9 1254.6L270.4 1254.9L270.9 1254.9L271.5 1254.9L272.0 1255.6L272.5 1254.9L273.1 1255.6L273.6 1255.4L274.2 1255.8L274.7 1255.0L275.2 1255.4L275.8 1256.0L276.3 1255.1L276.8 1255.8L277.4 1255.6L277.9 1255.3L278.5 1255.3L279.0 1255.3L279.5 1255.0L280.1 1255.1L280.6 1254.7L281.1 1254.4L281.7 1254.0L282.2 1254.8L282.8 1254.1L283.3 1254.9L283.8 1255.0L284.4 1254.5L284.9 1254.9L285.4 1255.1L286.0 1254.9L286.5 1254.5L287.0 1254.8L287.6 1255.1L288.1 1255.2L288.7 1255.7L289.2 1254.1L289.7 1255.1L290.3 1255.1L290.8 1254.6L291.3 1255.2L291.9 1255.9L292.4 1255.1L293.0 1255.7L293.5 1255.5L294.0 1254.8L294.6 1254.0L295.1 1255.6L295.6 1255.4L296.2 1254.0L296.7 1254.7L297.3 1254.4L297.8 1254.8L298.3 1254.9L298.9 1255.5L299.4 1254.8L299.9 1256.1L300.5 1254.5L301.0 1255.4L301.6 1256.6L302.1 1255.3L302.6 1255.5L303.2 1254.8L303.7 1256.4L304.2 1255.4L304.8 1254.8L305.3 1254.0L305.9 1255.0L306.4 1255.3L306.9 1253.9L307.5 1254.6L308.0 1255.1L308.5 1253.9L309.1 1255.0L309.6 1254.3L310.2 1254.5L310.7 1255.3L311.2 1255.7L311.8 1255.7L312.3 1254.9L312.8 1255.2L313.4 1254.1L313.9 1254.3L314.5 1255.3L315.0 1254.9L315.5 1254.6L316.1 1254.3L316.6 1254.9L317.1 1256.1L317.7 1254.1L318.2 1254.6L318.8 1255.3L319.3 1253.8L319.8 1254.3L320.4 1254.6L320.9 1255.3L321.4 1254.7L322.0 1255.7L322.5 1254.9L323.1 1254.9L323.6 1255.2L324.1 1255.3L324.7 1254.5L325.2 1254.7L325.7 1255.2L326.3 1255.4L326.8 1254.7L327.3 1255.0L327.9 1255.0L328.4 1255.5L329.0 1255.0L329.5 1255.4L330.0 1255.0L330.6 1254.3L331.1 1254.7L331.6 1254.3L332.2 1254.8L332.7 1255.2L333.3 1254.5L333.8 1254.2L334.3 1255.4L334.9 1255.0L335.4 1255.3L335.9 1255.4L336.5 1255.5L337.0 1255.9L337.6 1255.3L338.1 1254.5L338.6 1255.3L339.2 1255.5L339.7 1255.2L340.2 1255.5L340.8 1255.1L341.3 1255.7L341.9 1254.7L342.4 1255.0L342.9 1254.7L343.5 1256.0L344.0 1254.7L344.5 1254.7L345.1 1255.0L345.6 1255.4L346.2 1255.1L346.7 1255.0L347.2 1254.4L347.8 1253.9L348.3 1254.8L348.8 1254.7L349.4 1255.6L349.9 1255.0L350.5 1255.0L351.0 1255.3L351.5 1254.4L352.1 1254.3L352.6 1254.6L353.1 1255.4L353.7 1255.1L354.2 1254.4L354.8 1254.2L355.3 1255.1L355.8 1255.1L356.4 1254.2L356.9 1255.5L357.4 1254.5L358.0 1255.3L358.5 1254.9L359.1 1254.8L359.6 1254.7L360.1 1255.4L360.7 1255.3L361.2 1255.4L361.7 1254.9L362.3 1254.7L362.8 1256.1L363.4 1255.9L363.9 1255.0L364.4 1254.6L365.0 1255.7L365.5 1255.0L366.0 1255.0L366.6 1255.2L367.1 1254.9L367.6 1254.9L368.2 1255.8L368.7 1254.1L369.3 1255.3L369.8 1254.6L370.3 1255.0L370.9 1255.0L371.4 1255.1L371.9 1253.8L372.5 1255.2L373.0 1255.8L373.6 1254.6L374.1 1255.2L374.6 1255.1L375.2 1254.9L375.7 1254.6L376.2 1255.4L376.8 1255.1L377.3 1255.8L377.9 1255.4L378.4 1254.7L378.9 1253.7L379.5 1255.8L380.0 1255.6L380.5 1255.4L381.1 1255.0L381.6 1256.2L382.2 1255.8L382.7 1255.2L383.2 1255.0L383.8 1255.2L384.3 1255.4L384.8 1255.1L385.4 1255.4L385.9 1255.0L386.5 1255.1L387.0 1254.4L387.5 1255.0L388.1 1255.0L388.6 1255.1L389.1 1255.0L389.7 1255.2L390.2 1254.9L390.8 1255.1L391.3 1254.7L391.8 1256.3L392.4 1254.8L392.9 1254.5L393.4 1254.7L394.0 1254.7L394.5 1254.5L395.1 1254.0L395.6 1255.8L396.1 1255.5L396.7 1255.1L397.2 1255.5L397.7 1254.7L398.3 1254.4L398.8 1255.4L399.4 1255.4L399.9 1254.9L400.4 1255.1L401.0 1253.6L401.5 1254.9L402.0 1255.4L402.6 1255.1L403.1 1255.1L403.7 1255.2L404.2 1253.9L404.7 1254.3L405.3 1254.5L405.8 1255.3L406.3 1255.0L406.9 1254.4L407.4 1255.5L407.9 1255.0L408.5 1255.6L409.0 1256.0L409.6 1254.3L410.1 1254.2L410.6 1255.3L411.2 1255.5L411.7 1255.1L412.2 1255.2L412.8 1255.2L413.3 1255.1L413.9 1254.4L414.4 1255.3L414.9 1255.4L415.5 1254.8L416.0 1254.6L416.5 1254.8L417.1 1254.8L417.6 1255.4L418.2 1255.4L418.7 1255.0L419.2 1254.9L419.8 1254.3L420.3 1254.9L420.8 1254.7L421.4 1254.9L421.9 1255.5L422.5 1255.4L423.0 1257.0L423.5 1255.0L424.1 1255.0L424.6 1254.7L425.1 1255.0L425.7 1255.0L426.2 1255.4L426.8 1254.1L427.3 1255.2L427.8 1255.2L428.4 1254.6L428.9 1254.5L429.4 1255.1L430.0 1255.4L430.5 1255.1L431.1 1255.0L431.6 1255.2L432.1 1254.7L432.7 1255.3L433.2 1255.4L433.7 1255.0L434.3 1254.2L434.8 1254.8L435.4 1254.7L435.9 1254.8L436.4 1254.5L437.0 1255.2L437.5 1255.3L438.0 1255.3L438.6 1255.2L439.1 1255.7L439.7 1255.3L440.2 1255.4L440.7 1254.8L441.3 1255.5L441.8 1256.0L442.3 1254.9L442.9 1255.5L443.4 1254.5L444.0 1254.9L444.5 1255.5L445.0 1254.6L445.6 1254.0L446.1 1254.6L446.6 1254.5L447.2 1255.0L447.7 1254.3L448.2 1253.9L448.8 1254.4L449.3 1254.9L449.9 1255.1L450.4 1254.8L450.9 1254.7L451.5 1255.0L452.0 1254.7L452.5 1254.8L453.1 1255.1L453.6 1255.6L454.2 1255.1L454.7 1255.5L455.2 1254.9L455.8 1254.8L456.3 1255.2L456.8 1254.4L457.4 1254.7L457.9 1254.5L458.5 1254.6L459.0 1254.4L459.5 1256.0L460.1 1255.2L460.6 1255.0L461.1 1254.5L461.7 1254.0L462.2 1255.3L462.8 1254.8L463.3 1255.5L463.8 1254.7L464.4 1254.5L464.9 1254.8L465.4 1254.4L466.0 1254.4L466.5 1255.4L467.1 1254.9L467.6 1255.6L468.1 1255.1L468.7 1255.1L469.2 1255.1L469.7 1255.1L470.3 1255.0L470.8 1255.9L471.4 1255.3L471.9 1254.4L472.4 1256.1L473.0 1255.8L473.5 1255.6L474.0 1255.1L474.6 1255.2L475.1 1255.1L475.7 1255.4L476.2 1255.5L476.7 1255.2L477.3 1254.7L477.8 1254.7L478.3 1255.8L478.9 1255.6L479.4 1254.3L480.0 1254.5L480.5 1254.8L481.0 1255.2L481.6 1254.9L482.1 1254.9L482.6 1255.0L483.2 1255.5L483.7 1254.3L484.3 1255.5L484.8 1255.3L485.3 1255.2L485.9 1254.3L486.4 1254.9L486.9 1254.8L487.5 1255.3L488.0 1255.3L488.5 1255.2L489.1 1254.2L489.6 1255.4L490.2 1254.9L490.7 1255.5L491.2 1255.2L491.8 1254.8L492.3 1256.5L492.8 1255.4L493.4 1255.4L493.9 1255.0L494.5 1255.2L495.0 1255.7L495.5 1255.4L496.1 1255.9L496.6 1255.6L497.1 1254.7L497.7 1254.6L498.2 1255.7L498.8 1255.3L499.3 1254.9L499.8 1255.0L500.4 1254.9L500.9 1255.9L501.4 1255.1L502.0 1254.4L502.5 1255.4L503.1 1255.0L503.6 1255.1L504.1 1254.8L504.7 1254.9L505.2 1254.0L505.7 1255.0L506.3 1254.6L506.8 1254.8L507.4 1255.1L507.9 1255.6L508.4 1253.9L509.0 1254.9L509.5 1255.2L510.0 1255.4L510.6 1254.5L511.1 1255.0L511.7 1255.1L512.2 1255.2L512.7 1254.5L513.3 1254.7L513.8 1254.5L514.3 1255.3L514.9 1255.2L515.4 1254.5L516.0 1254.6L516.5 1254.9L517.0 1254.4L517.6 1254.8L518.1 1255.2L518.6 1255.2L519.2 1254.5L519.7 1254.6L520.3 1254.7L520.8 1254.1L521.3 1254.8L521.9 1254.7L522.4 1254.1L522.9 1254.6L523.5 1254.4L524.0 1254.6L524.6 1254.4L525.1 1255.5L525.6 1254.5L526.2 1255.2L526.7 1255.1L527.2 1255.6L527.8 1255.0L528.3 1255.1L528.8 1255.3L529.4 1254.4L529.9 1256.2L530.5 1255.1L531.0 1254.9L531.5 1254.6L532.1 1255.0L532.6 1255.6L533.1 1254.5L533.7 1255.0L534.2 1255.4L534.8 1255.4L535.3 1254.9L535.8 1254.4L536.4 1255.3L536.9 1255.3L537.4 1254.8L538.0 1254.8L538.5 1255.7L539.1 1254.1L539.6 1254.5L540.1 1254.5L540.7 1253.9L541.2 1254.5L541.7 1254.5L542.3 1255.2L542.8 1253.9L543.4 1254.1L543.9 1254.8L544.4 1254.0L545.0 1253.8L545.5 1254.5L546.0 1254.1L546.6 1254.4L547.1 1254.7L547.7 1255.1L548.2 1254.7L548.7 1254.9L549.3 1255.3L549.8 1254.8L550.3 1255.2L550.9 1254.6L551.4 1255.1L552.0 1255.3L552.5 1254.1L553.0 1256.1L553.6 1254.7L554.1 1254.8L554.6 1254.9L555.2 1255.4L555.7 1254.7L556.3 1255.3L556.8 1255.0L557.3 1255.7L557.9 1254.4L558.4 1255.6L558.9 1255.1L559.5 1254.9L560.0 1255.2L560.6 1255.0L561.1 1255.0L561.6 1255.2L562.2 1255.7L562.7 1254.9L563.2 1255.9L563.8 1254.1L564.3 1255.9L564.9 1255.9L565.4 1256.0L565.9 1255.4L566.5 1255.4L567.0 1254.8L567.5 1255.6L568.1 1254.5L568.6 1254.7L569.1 1254.7L569.7 1254.8L570.2 1254.8L570.8 1254.1L571.3 1254.6L571.8 1254.9L572.4 1255.3L572.9 1255.1L573.4 1255.0L574.0 1254.8L574.5 1254.8L575.1 1254.8L575.6 1255.0L576.1 1255.3L576.7 1254.8L577.2 1256.0L577.7 1254.6L578.3 1255.4L578.8 1254.7L579.4 1254.7L579.9 1254.7L580.4 1255.7L581.0 1254.8L581.5 1255.0L582.0 1255.0L582.6 1255.2L583.1 1255.5L583.7 1256.0L584.2 1254.9L584.7 1254.7L585.3 1255.9L585.8 1256.0L586.3 1255.2L586.9 1255.2L587.4 1255.4L588.0 1255.9L588.5 1254.9L589.0 1255.9L589.6 1255.1L590.1 1254.8L590.6 1254.8L591.2 1253.9L591.7 1254.7L592.3 1254.1L592.8 1254.5L593.3 1254.3L593.9 1255.0L594.4 1255.2L594.9 1255.0L595.5 1255.0L596.0 1255.2L596.6 1255.7L597.1 1255.1L597.6 1255.6L598.2 1254.8L598.7 1255.2L599.2 1254.8L599.8 1255.4L600.3 1254.8L600.9 1255.2L601.4 1254.9L601.9 1255.1L602.5 1255.6L603.0 1255.1L603.5 1255.3L604.1 1254.9L604.6 1254.2L605.2 1255.8L605.7 1254.9L606.2 1254.6L606.8 1255.5L607.3 1254.5L607.8 1254.7L608.4 1255.5L608.9 1254.7L609.4 1255.5L610.0 1254.9L610.5 1255.1L611.1 1255.2L611.6 1255.0L612.1 1255.7L612.7 1255.7L613.2 1255.1L613.7 1255.2L614.3 1255.1L614.8 1255.6L615.4 1254.0L615.9 1255.3L616.4 1255.3L617.0 1254.7L617.5 1255.2L618.0 1255.0L618.6 1255.8L619.1 1254.8L619.7 1255.7L620.2 1255.8L620.7 1255.6L621.3 1255.0L621.8 1254.9L622.3 1254.0L622.9 1254.6L623.4 1255.5L624.0 1254.5L624.5 1254.0L625.0 1254.5L625.6 1254.1L626.1 1255.1L626.6 1254.5L627.2 1255.2L627.7 1254.6L628.3 1254.1L628.8 1254.4L629.3 1254.5L629.9 1254.2L630.4 1255.1L630.9 1254.1L631.5 1254.8L632.0 1254.3L632.6 1254.9L633.1 1254.0L633.6 1254.0L634.2 1254.8L634.7 1255.1L635.2 1253.8L635.8 1254.2L636.3 1254.2L636.9 1254.0L637.4 1254.9L637.9 1254.5L638.5 1253.9L639.0 1254.4L639.5 1255.1L640.1 1254.3L640.6 1254.5L641.2 1254.4L641.7 1254.7L642.2 1254.5L642.8 1255.2L643.3 1254.5L643.8 1254.1L644.4 1255.0L644.9 1253.4L645.5 1254.4L646.0 1254.8L646.5 1254.7L647.1 1254.1L647.6 1254.2L648.1 1254.7L648.7 1255.9L649.2 1254.0L649.7 1254.4L650.3 1254.4L650.8 1255.0L651.4 1254.7L651.9 1254.9L652.4 1255.4L653.0 1254.5L653.5 1254.4L654.0 1254.6L654.6 1255.4L655.1 1254.3L655.7 1255.3L656.2 1255.1L656.7 1253.2L657.3 1254.2L657.8 1254.2L658.3 1254.9L658.9 1255.3L659.4 1254.7L660.0 1254.7L660.5 1255.4L661.0 1254.7L661.6 1255.4L662.1 1254.0L662.6 1254.9L663.2 1253.9L663.7 1253.1L664.3 1253.8L664.8 1253.9L665.3 1254.0L665.9 1254.3L666.4 1254.2L666.9 1254.3L667.5 1253.7L668.0 1254.7L668.6 1254.5L669.1 1254.0L669.6 1253.5L670.2 1253.7L670.7 1253.7L671.2 1253.5L671.8 1253.7L672.3 1253.2L672.9 1253.7L673.4 1253.1L673.9 1253.6L674.5 1253.5L675.0 1253.3L675.5 1253.4L676.1 1252.6L676.6 1254.3L677.2 1252.7L677.7 1253.1L678.2 1252.6L678.8 1252.2L679.3 1253.0L679.8 1252.5L680.4 1251.6L680.9 1251.6L681.5 1251.4L682.0 1251.4L682.5 1250.8L683.1 1249.8L683.6 1249.3L684.1 1248.3L684.7 1248.2L685.2 1247.5L685.8 1245.8L686.3 1244.7L686.8 1242.3L687.4 1239.4L687.9 1235.5L688.4 1231.9L689.0 1227.1L689.5 1220.0L690.0 1215.7L690.6 1215.8L691.1 1216.4L691.7 1216.6L692.2 1216.9L692.7 1215.2L693.3 1217.0L693.8 1216.2L694.3 1216.0L694.9 1216.2L695.4 1222.7L696.0 1228.6L696.5 1234.3L697.0 1237.2L697.6 1241.0L698.1 1243.6L698.6 1244.6L699.2 1246.7L699.7 1248.2L700.3 1248.5L700.8 1249.2L701.3 1249.7L701.9 1250.0L702.4 1250.4L702.9 1250.1L703.5 1250.8L704.0 1252.1L704.6 1251.0L705.1 1251.7L705.6 1251.3L706.2 1251.7L706.7 1251.9L707.2 1251.9L707.8 1252.7L708.3 1252.3L708.9 1252.8L709.4 1253.5L709.9 1251.9L710.5 1253.2L711.0 1252.4L711.5 1253.2L712.1 1253.4L712.6 1253.5L713.2 1254.2L713.7 1253.7L714.2 1253.0L714.8 1254.3L715.3 1253.2L715.8 1253.6L716.4 1253.8L716.9 1253.4L717.5 1254.0L718.0 1254.7L718.5 1253.2L719.1 1253.3L719.6 1254.0L720.1 1254.2L720.7 1253.7L721.2 1253.1L721.8 1254.3L722.3 1254.1L722.8 1253.4L723.4 1254.2L723.9 1253.8L724.4 1254.0L725.0 1253.6L725.5 1254.2L726.1 1254.6L726.6 1253.7L727.1 1254.0L727.7 1254.9L728.2 1255.5L728.7 1254.9L729.3 1254.5L729.8 1253.8L730.3 1254.1L730.9 1254.3L731.4 1254.8L732.0 1254.6L732.5 1255.7L733.0 1255.3L733.6 1253.8L734.1 1254.4L734.6 1255.0L735.2 1255.3L735.7 1254.8L736.3 1253.1L736.8 1253.7L737.3 1254.9L737.9 1254.5L738.4 1255.5L738.9 1254.6L739.5 1254.6L740.0 1255.2L740.6 1254.5L741.1 1254.5L741.6 1254.4L742.2 1255.0L742.7 1255.0L743.2 1255.2L743.8 1255.5L744.3 1255.2L744.9 1255.4L745.4 1254.8L745.9 1254.5L746.5 1255.1L747.0 1255.3L747.5 1255.5L748.1 1254.7L748.6 1254.6L749.2 1254.5L749.7 1254.7L750.2 1254.6L750.8 1254.5L751.3 1254.6L751.8 1254.4L752.4 1254.8L752.9 1254.3L753.5 1254.0L754.0 1254.6L754.5 1255.5L755.1 1254.4L755.6 1255.1L756.1 1255.4L756.7 1254.5L757.2 1254.9L757.8 1253.9L758.3 1255.2L758.8 1255.6L759.4 1255.0L759.9 1254.1L760.4 1254.6L761.0 1254.3L761.5 1254.8L762.1 1254.8L762.6 1254.6L763.1 1254.8L763.7 1254.6L764.2 1255.2L764.7 1255.2L765.3 1255.4L765.8 1254.9L766.4 1255.3L766.9 1254.9L767.4 1255.2L768.0 1255.0L768.5 1254.6L769.0 1254.3L769.6 1254.0L770.1 1254.3L770.6 1255.0L771.2 1256.3L771.7 1254.0L772.3 1254.3L772.8 1254.8L773.3 1256.4L773.9 1254.7L774.4 1254.4L774.9 1255.0L775.5 1255.7L776.0 1253.5L776.6 1254.5L777.1 1255.6L777.6 1254.5L778.2 1255.0L778.7 1254.6L779.2 1255.2L779.8 1254.3L780.3 1254.9L780.9 1254.8L781.4 1255.0L781.9 1254.9L782.5 1254.7L783.0 1254.1L783.5 1254.8L784.1 1254.6L784.6 1255.3L785.2 1254.9L785.7 1255.2L786.2 1255.5L786.8 1254.9L787.3 1255.6L787.8 1255.2L788.4 1254.3L788.9 1254.6L789.5 1255.6L790.0 1254.8L790.5 1255.6L791.1 1254.8L791.6 1255.2L792.1 1255.5L792.7 1254.2L793.2 1255.1L793.8 1254.7L794.3 1255.0L794.8 1255.6L795.4 1255.1L795.9 1254.2L796.4 1255.4L797.0 1255.0L797.5 1255.1L798.1 1255.5L798.6 1254.8L799.1 1255.3L799.7 1255.1L800.2 1254.5L800.7 1254.8L801.3 1254.3L801.8 1255.6L802.4 1255.1L802.9 1255.5L803.4 1254.6L804.0 1255.5L804.5 1254.8L805.0 1255.4L805.6 1255.3L806.1 1255.0L806.7 1255.4L807.2 1255.1L807.7 1254.6L808.3 1254.7L808.8 1254.5L809.3 1255.5L809.9 1254.9L810.4 1254.6L810.9 1255.0L811.5 1254.4L812.0 1254.5L812.6 1254.9L813.1 1255.6L813.6 1255.1L814.2 1255.2L814.7 1255.9L815.2 1254.3L815.8 1256.4L816.3 1254.4L816.9 1255.0L817.4 1254.3L817.9 1254.4L818.5 1254.7L819.0 1255.8L819.5 1254.4L820.1 1254.8L820.6 1255.1L821.2 1254.5L821.7 1254.9L822.2 1255.4L822.8 1254.2L823.3 1255.0L823.8 1255.0L824.4 1254.8L824.9 1255.0L825.5 1254.3L826.0 1255.0L826.5 1254.9L827.1 1254.6L827.6 1255.7L828.1 1256.1L828.7 1255.5L829.2 1254.9L829.8 1255.9L830.3 1255.4L830.8 1254.8L831.4 1255.5L831.9 1255.1L832.4 1255.6L833.0 1255.9L833.5 1255.8L834.1 1254.7L834.6 1255.1L835.1 1255.2L835.7 1254.5L836.2 1255.2L836.7 1255.3L837.3 1254.2L837.8 1254.6L838.4 1254.4L838.9 1254.4L839.4 1254.7L840.0 1255.8L840.5 1254.9L841.0 1254.9L841.6 1255.7L842.1 1255.8L842.7 1255.9L843.2 1254.4L843.7 1255.5L844.3 1254.5L844.8 1254.9L845.3 1255.0L845.9 1254.8L846.4 1255.8L847.0 1254.8L847.5 1255.5L848.0 1254.9L848.6 1254.8L849.1 1255.1L849.6 1255.1L850.2 1255.1L850.7 1254.2L851.2 1255.3L851.8 1255.0L852.3 1255.2L852.9 1254.9L853.4 1255.0L853.9 1254.1L854.5 1255.2L855.0 1254.2L855.5 1255.4L856.1 1255.4L856.6 1255.0L857.2 1255.0L857.7 1255.7L858.2 1255.3L858.8 1255.0L859.3 1255.6L859.8 1254.8L860.4 1255.0L860.9 1255.9L861.5 1255.4L862.0 1254.7L862.5 1254.9L863.1 1254.6L863.6 1255.0L864.1 1254.3L864.7 1255.4L865.2 1255.2L865.8 1254.8L866.3 1254.8L866.8 1256.2L867.4 1254.7L867.9 1254.6L868.4 1254.5L869.0 1254.6L869.5 1255.3L870.1 1254.9L870.6 1254.8L871.1 1255.0L871.7 1254.4L872.2 1253.9L872.7 1255.6L873.3 1255.1L873.8 1254.7L874.4 1255.1L874.9 1255.1L875.4 1254.9L876.0 1254.7L876.5 1253.7L877.0 1255.1L877.6 1255.1L878.1 1255.6L878.7 1255.1L879.2 1254.8L879.7 1255.3L880.3 1255.1L880.8 1254.9L881.3 1254.9L881.9 1254.8L882.4 1254.9L883.0 1254.7L883.5 1255.3L884.0 1256.2L884.6 1254.9L885.1 1255.5L885.6 1254.1L886.2 1253.5L886.7 1254.7L887.3 1255.0L887.8 1254.8L888.3 1254.5L888.9 1254.8L889.4 1255.0L889.9 1255.2L890.5 1255.0L891.0 1254.6L891.5 1254.9L892.1 1255.6L892.6 1254.5L893.2 1254.7L893.7 1254.9L894.2 1254.0L894.8 1254.0L895.3 1255.7L895.8 1255.1L896.4 1254.4L896.9 1254.9L897.5 1255.0L898.0 1255.0L898.5 1255.2L899.1 1254.9L899.6 1253.8L900.1 1254.3L900.7 1254.9L901.2 1254.2L901.8 1254.5L902.3 1255.4L902.8 1254.8L903.4 1254.5L903.9 1255.0L904.4 1255.4L905.0 1254.0L905.5 1254.0L906.1 1254.3L906.6 1254.5L907.1 1254.6L907.7 1254.3L908.2 1254.6L908.7 1254.8L909.3 1254.2L909.8 1254.6L910.4 1254.5L910.9 1255.3L911.4 1255.3L912.0 1255.5L912.5 1254.8L913.0 1254.9L913.6 1254.1L914.1 1255.1L914.7 1254.5L915.2 1255.3L915.7 1255.7L916.3 1255.3L916.8 1255.5L917.3 1255.3L917.9 1255.4L918.4 1255.7L919.0 1255.7L919.5 1256.0L920.0 1255.0L920.6 1255.6L921.1 1255.6L921.6 1255.3L922.2 1255.3L922.7 1254.4L923.3 1255.5L923.8 1254.6L924.3 1254.6L924.9 1254.4L925.4 1255.2L925.9 1254.5L926.5 1255.2L927.0 1255.3L927.6 1255.0L928.1 1254.7L928.6 1255.3L929.2 1255.5L929.7 1254.6L930.2 1254.4L930.8 1254.5L931.3 1254.5L931.8 1254.7L932.4 1254.7L932.9 1253.8L933.5 1255.5L934.0 1254.6L934.5 1254.8L935.1 1254.1L935.6 1254.2L936.1 1254.5L936.7 1255.3L937.2 1255.5L937.8 1254.3L938.3 1255.2L938.8 1255.8L939.4 1255.0L939.9 1255.4L940.4 1255.2L941.0 1254.4L941.5 1255.3L942.1 1254.6L942.6 1255.0L943.1 1254.7L943.7 1254.9L944.2 1255.1L944.7 1255.6L945.3 1254.5L945.8 1254.9L946.4 1255.4L946.9 1255.6L947.4 1255.1L948.0 1255.1L948.5 1255.5L949.0 1256.1L949.6 1254.8L950.1 1254.4L950.7 1255.0L951.2 1255.7L951.7 1254.6L952.3 1255.7L952.8 1255.5L953.3 1255.3L953.9 1254.7L954.4 1254.4L955.0 1255.1L955.5 1254.9L956.0 1255.1L956.6 1254.2L957.1 1253.3L957.6 1255.0L958.2 1254.9L958.7 1254.3L959.3 1254.7L959.8 1254.9L960.3 1255.0L960.9 1254.7L961.4 1255.0L961.9 1254.8L962.5 1255.8L963.0 1255.4L963.6 1253.9L964.1 1255.5L964.6 1255.1L965.2 1254.8L965.7 1254.8L966.2 1254.5L966.8 1254.9L967.3 1255.0L967.9 1255.3L968.4 1254.5L968.9 1254.1L969.5 1254.7L970.0 1254.3L970.5 1255.3L971.1 1254.8L971.6 1254.1L972.1 1254.5L972.7 1254.9L973.2 1255.0L973.8 1254.1L974.3 1255.0L974.8 1255.3L975.4 1255.6L975.9 1255.5L976.4 1255.0L977.0 1254.4L977.5 1254.8L978.1 1255.1L978.6 1254.4L979.1 1255.5L979.7 1254.4L980.2 1254.3L980.7 1255.1L981.3 1254.7L981.8 1254.9L982.4 1254.6L982.9 1254.8L983.4 1254.4L984.0 1255.5L984.5 1255.0L985.0 1254.7L985.6 1254.9L986.1 1255.2L986.7 1254.6L987.2 1255.0L987.7 1255.1L988.3 1254.9L988.8 1254.8L989.3 1255.0L989.9 1254.9L990.4 1254.8L991.0 1254.3L991.5 1255.1L992.0 1255.3L992.6 1255.1L993.1 1255.9L993.6 1255.4L994.2 1255.1L994.7 1254.9L995.3 1255.3L995.8 1254.8L996.3 1254.2L996.9 1255.0L997.4 1254.8L997.9 1254.8L998.5 1255.1L999.0 1254.8L999.6 1255.6L1000.1 1254.5L1000.6 1254.7L1001.2 1255.0L1001.7 1254.4L1002.2 1254.5L1002.8 1255.4L1003.3 1253.9L1003.9 1254.8L1004.4 1253.8L1004.9 1254.8L1005.5 1253.7L1006.0 1254.1L1006.5 1255.0L1007.1 1255.4L1007.6 1254.8L1008.2 1253.5L1008.7 1255.1L1009.2 1254.8L1009.8 1254.2L1010.3 1254.4L1010.8 1253.9L1011.4 1254.4L1011.9 1254.5L1012.4 1254.7L1013.0 1255.0L1013.5 1254.2L1014.1 1253.5L1014.6 1254.2L1015.1 1254.3L1015.7 1254.7L1016.2 1254.7L1016.7 1254.8L1017.3 1255.3L1017.8 1254.8L1018.4 1254.5L1018.9 1254.7L1019.4 1254.5L1020.0 1254.6L1020.5 1255.1L1021.0 1254.5L1021.6 1255.5L1022.1 1256.1L1022.7 1255.8L1023.2 1255.9L1023.7 1255.1L1024.3 1254.6L1024.8 1255.9L1025.3 1254.7L1025.9 1254.8L1026.4 1254.5L1027.0 1254.4L1027.5 1255.2L1028.0 1254.3L1028.6 1254.2L1029.1 1255.2L1029.6 1254.9L1030.2 1254.6L1030.7 1255.1L1031.3 1255.5L1031.8 1254.8L1032.3 1255.0L1032.9 1255.4L1033.4 1255.6L1033.9 1255.6L1034.5 1255.4L1035.0 1254.8L1035.6 1255.2L1036.1 1254.9L1036.6 1254.1L1037.2 1255.4L1037.7 1255.0L1038.2 1255.3L1038.8 1254.7L1039.3 1254.9L1039.9 1254.6L1040.4 1254.9L1040.9 1255.2L1041.5 1254.7L1042.0 1255.0L1042.5 1254.9L1043.1 1255.5L1043.6 1255.4L1044.2 1254.4L1044.7 1255.6L1045.2 1255.0L1045.8 1254.5L1046.3 1254.5L1046.8 1255.6L1047.4 1254.9L1047.9 1255.1L1048.5 1255.2L1049.0 1254.7L1049.5 1255.8L1050.1 1256.1L1050.6 1255.0L1051.1 1255.8L1051.7 1254.5L1052.2 1255.0L1052.7 1255.2L1053.3 1255.1L1053.8 1255.3L1054.4 1255.2L1054.9 1255.1L1055.4 1254.9L1056.0 1255.1L1056.5 1254.8L1057.0 1255.8L1057.6 1255.1L1058.1 1255.7L1058.7 1255.4L1059.2 1255.3L1059.7 1255.2L1060.3 1254.7L1060.8 1256.2L1061.3 1255.4L1061.9 1255.3L1062.4 1255.0L1063.0 1255.8L1063.5 1254.9L1064.0 1254.8L1064.6 1254.7L1065.1 1255.6L1065.6 1255.0L1066.2 1254.7L1066.7 1254.4L1067.3 1255.0L1067.8 1254.8L1068.3 1254.5L1068.9 1255.2L1069.4 1255.2L1069.9 1254.2L1070.5 1255.2L1071.0 1255.3L1071.6 1254.7L1072.1 1254.2L1072.6 1255.2L1073.2 1254.6L1073.7 1254.8L1074.2 1255.0L1074.8 1255.0L1075.3 1255.5L1075.9 1254.7L1076.4 1255.4L1076.9 1255.7L1077.5 1255.5L1078.0 1255.3L1078.5 1255.0L1079.1 1254.8L1079.6 1254.8L1080.2 1254.4L1080.7 1255.6L1081.2 1255.0L1081.8 1254.5L1082.3 1255.4L1082.8 1255.7L1083.4 1255.1L1083.9 1254.8L1084.5 1254.3L1085.0 1255.1L1085.5 1254.6L1086.1 1254.6L1086.6 1255.2L1087.1 1254.5L1087.7 1255.5L1088.2 1254.1L1088.8 1255.2L1089.3 1254.8L1089.8 1255.2L1090.4 1255.6L1090.9 1254.6L1091.4 1255.5L1092.0 1254.6L1092.5 1254.7L1093.0 1255.2L1093.6 1254.4L1094.1 1255.6L1094.7 1254.8L1095.2 1254.8L1095.7 1254.6L1096.3 1255.6L1096.8 1255.0L1097.3 1254.9L1097.9 1254.7L1098.4 1254.8L1099.0 1255.1L1099.5 1254.8L1100.0 1255.5L1100.6 1254.9L1101.1 1254.7L1101.6 1255.2L1102.2 1255.6L1102.7 1253.9L1103.3 1254.9L1103.8 1255.2L1104.3 1254.8L1104.9 1255.2L1105.4 1254.0L1105.9 1254.3L1106.5 1255.1L1107.0 1254.7L1107.6 1254.7L1108.1 1255.2L1108.6 1255.1L1109.2 1255.1L1109.7 1254.9L1110.2 1255.0L1110.8 1255.5L1111.3 1254.8L1111.9 1254.3L1112.4 1254.6L1112.9 1255.0L1113.5 1255.5L1114.0 1254.8L1114.5 1254.4L1115.1 1255.1L1115.6 1255.0L1116.2 1255.5L1116.7 1255.4L1117.2 1255.6L1117.8 1255.4L1118.3 1255.3L1118.8 1254.6L1119.4 1254.9L1119.9 1255.6L1120.5 1255.4L1121.0 1255.3L1121.5 1255.0L1122.1 1254.9L1122.6 1255.2L1123.1 1255.0L1123.7 1255.6L1124.2 1255.1L1124.8 1255.1L1125.3 1254.7L1125.8 1256.0L1126.4 1255.1L1126.9 1255.1L1127.4 1255.7L1128.0 1256.3L1128.5 1255.8L1129.1 1255.1L1129.6 1255.5L1130.1 1254.9L1130.7 1255.0L1131.2 1254.9L1131.7 1254.9L1132.3 1255.1L1132.8 1254.9L1133.3 1255.6L1133.9 1255.2L1134.4 1254.6L1135.0 1254.9L1135.5 1254.6L1136.0 1254.6L1136.6 1254.8L1137.1 1255.6L1137.6 1254.8L1138.2 1254.2L1138.7 1254.7L1139.3 1254.6L1139.8 1254.9L1140.3 1254.9L1140.9 1254.5L1141.4 1254.6L1141.9 1255.0L1142.5 1255.3L1143.0 1255.3L1143.6 1255.6L1144.1 1255.0L1144.6 1255.4L1145.2 1255.1L1145.7 1254.6L1146.2 1254.6L1146.8 1256.0L1147.3 1255.0L1147.9 1255.6L1148.4 1255.3L1148.9 1255.5L1149.5 1254.6L1150.0 1255.2L1150.5 1254.7L1151.1 1254.3L1151.6 1254.0L1152.2 1254.9L1152.7 1253.9L1153.2 1254.9L1153.8 1254.3L1154.3 1254.8L1154.8 1254.1L1155.4 1255.2L1155.9 1254.9L1156.5 1254.4L1157.0 1254.6L1157.5 1255.1L1158.1 1254.5L1158.6 1255.4L1159.1 1255.3L1159.7 1254.8L1160.2 1255.7L1160.8 1255.5L1161.3 1254.8L1161.8 1255.2L1162.4 1255.0L1162.9 1254.8L1163.4 1255.6L1164.0 1254.7L1164.5 1253.7L1165.1 1254.9L1165.6 1255.1L1166.1 1255.1L1166.7 1254.2L1167.2 1255.3L1167.7 1254.5L1168.3 1255.1L1168.8 1255.2L1169.4 1255.0L1169.9 1255.6L1170.4 1254.9L1171.0 1256.3L1171.5 1255.5L1172.0 1255.0L1172.6 1256.2L1173.1 1255.1L1173.6 1254.3L1174.2 1255.6L1174.7 1255.8L1175.3 1254.6L1175.8 1254.6L1176.3 1255.3L1176.9 1255.1L1177.4 1254.5L1177.9 1254.8L1178.5 1254.9L1179.0 1255.3L1179.6 1255.6L1180.1 1254.5L1180.6 1255.4L1181.2 1254.0L1181.7 1255.2L1182.2 1254.8L1182.8 1254.9L1183.3 1254.5L1183.9 1254.4L1184.4 1255.1L1184.9 1255.5L1185.5 1254.1L1186.0 1255.0L1186.5 1254.7L1187.1 1254.5L1187.6 1254.6L1188.2 1255.4L1188.7 1255.3L1189.2 1255.5L1189.8 1254.3L1190.3 1254.5L1190.8 1255.1L1191.4 1255.1L1191.9 1255.8L1192.5 1254.6L1193.0 1254.9L1193.5 1255.0L1194.1 1255.4L1194.6 1254.7L1195.1 1254.5L1195.7 1255.3L1196.2 1254.3L1196.8 1254.0L1197.3 1254.4L1197.8 1254.7L1198.4 1255.3L1198.9 1255.0L1199.4 1255.3L1200.0 1254.9L1200.5 1254.9L1201.1 1254.5L1201.6 1254.3L1202.1 1255.0L1202.7 1254.9L1203.2 1254.9L1203.7 1254.5L1204.3 1254.6L1204.8 1254.9L1205.4 1255.0L1205.9 1255.6L1206.4 1254.4L1207.0 1255.4L1207.5 1255.3L1208.0 1254.8L1208.6 1254.9L1209.1 1254.9L1209.7 1255.6L1210.2 1256.0L1210.7 1254.9L1211.3 1254.6L1211.8 1255.2L1212.3 1255.1L1212.9 1254.8L1213.4 1255.1L1213.9 1255.2L1214.5 1254.7L1215.0 1255.2L1215.6 1254.0L1216.1 1254.5L1216.6 1254.8L1217.2 1254.8L1217.7 1254.2L1218.2 1255.4L1218.8 1254.6L1219.3 1254.9L1219.9 1254.7L1220.4 1254.8L1220.9 1254.4L1221.5 1254.8L1222.0 1254.1L1222.5 1253.8L1223.1 1254.7L1223.6 1254.5L1224.2 1254.9L1224.7 1253.8L1225.2 1254.6L1225.8 1254.4L1226.3 1254.7L1226.8 1254.5L1227.4 1254.4L1227.9 1254.1L1228.5 1254.7L1229.0 1253.4L1229.5 1253.2L1230.1 1254.1L1230.6 1254.7L1231.1 1253.3L1231.7 1253.3L1232.2 1253.1L1232.8 1253.1L1233.3 1253.8L1233.8 1253.4L1234.4 1253.2L1234.9 1252.6L1235.4 1252.0L1236.0 1250.5L1236.5 1248.4L1237.1 1246.2L1237.6 1242.9L1238.1 1236.7L1238.7 1231.3L1239.2 1224.4L1239.7 1220.3L1240.3 1219.4L1240.8 1220.0L1241.4 1224.0L1241.9 1227.8L1242.4 1232.6L1243.0 1234.5L1243.5 1238.4L1244.0 1240.7L1244.6 1243.8L1245.1 1246.6L1245.7 1249.1L1246.2 1250.4L1246.7 1251.8L1247.3 1252.4L1247.8 1252.4L1248.3 1253.9L1248.9 1254.4L1249.4 1253.9L1250.0 1254.2L1250.5 1253.8L1251.0 1253.3L1251.6 1254.5L1252.1 1253.7L1252.6 1254.9L1253.2 1254.3L1253.7 1254.1L1254.2 1253.8L1254.8 1254.2L1255.3 1253.9L1255.9 1254.2L1256.4 1255.2L1256.9 1254.5L1257.5 1255.4L1258.0 1254.5L1258.5 1254.8L1259.1 1254.2L1259.6 1254.5L1260.2 1254.3L1260.7 1253.8L1261.2 1255.3L1261.8 1254.8L1262.3 1254.7L1262.8 1254.3L1263.4 1255.0L1263.9 1254.5L1264.5 1254.6L1265.0 1255.1L1265.5 1256.0L1266.1 1254.4L1266.6 1255.3L1267.1 1254.6L1267.7 1253.6L1268.2 1254.3L1268.8 1254.8L1269.3 1254.7L1269.8 1254.6L1270.4 1255.5L1270.9 1255.0L1271.4 1254.7L1272.0 1254.1L1272.5 1254.8L1273.1 1254.5L1273.6 1255.2L1274.1 1254.3L1274.7 1255.3L1275.2 1254.5L1275.7 1254.7L1276.3 1254.4L1276.8 1254.9L1277.4 1255.1L1277.9 1254.5L1278.4 1254.3L1279.0 1255.5L1279.5 1255.1L1280.0 1255.6L1280.6 1255.3L1281.1 1254.9L1281.7 1255.5L1282.2 1254.5L1282.7 1254.7L1283.3 1254.6L1283.8 1255.3L1284.3 1254.6L1284.9 1254.9L1285.4 1254.6L1286.0 1254.9L1286.5 1255.4L1287.0 1255.4L1287.6 1254.8L1288.1 1255.9L1288.6 1254.5L1289.2 1255.1L1289.7 1254.8L1290.3 1253.9L1290.8 1254.4L1291.3 1255.6L1291.9 1254.3L1292.4 1256.2L1292.9 1254.8L1293.5 1255.0L1294.0 1255.4L1294.5 1255.0L1295.1 1254.6L1295.6 1254.6L1296.2 1254.5L1296.7 1255.2L1297.2 1254.7L1297.8 1255.1L1298.3 1254.1L1298.8 1254.6L1299.4 1255.8L1299.9 1255.0L1300.5 1254.8L1301.0 1255.4L1301.5 1255.2L1302.1 1255.6L1302.6 1254.6L1303.1 1255.3L1303.7 1254.4L1304.2 1255.3L1304.8 1255.9L1305.3 1255.4L1305.8 1254.3L1306.4 1255.0L1306.9 1255.0L1307.4 1254.4L1308.0 1254.7L1308.5 1254.1L1309.1 1255.2L1309.6 1255.3L1310.1 1254.8L1310.7 1255.1L1311.2 1255.9L1311.7 1255.0L1312.3 1254.4L1312.8 1255.4L1313.4 1255.0L1313.9 1254.6L1314.4 1255.4L1315.0 1255.3L1315.5 1255.2L1316.0 1255.5L1316.6 1254.6L1317.1 1254.5L1317.7 1254.9L1318.2 1253.7L1318.7 1253.7L1319.3 1255.1L1319.8 1254.7L1320.3 1254.9L1320.9 1254.5L1321.4 1255.0L1322.0 1255.4L1322.5 1254.7L1323.0 1255.1L1323.6 1254.7L1324.1 1255.0L1324.6 1255.1L1325.2 1255.8L1325.7 1255.5L1326.3 1255.6L1326.8 1255.4L1327.3 1254.4L1327.9 1255.7L1328.4 1255.2L1328.9 1255.3L1329.5 1255.0L1330.0 1254.4L1330.6 1255.8L1331.1 1255.8L1331.6 1255.8L1332.2 1254.4L1332.7 1255.3L1333.2 1254.5L1333.8 1255.0L1334.3 1254.9L1334.8 1254.7L1335.4 1254.6L1335.9 1254.7L1336.5 1255.3L1337.0 1255.6L1337.5 1255.2L1338.1 1254.8L1338.6 1254.7L1339.1 1254.8L1339.7 1255.0L1340.2 1254.7L1340.8 1254.8L1341.3 1255.3L1341.8 1254.9L1342.4 1254.7L1342.9 1255.1L1343.4 1255.1L1344.0 1255.0L1344.5 1254.7L1345.1 1255.3L1345.6 1255.1L1346.1 1254.7L1346.7 1255.2L1347.2 1254.7L1347.7 1255.3L1348.3 1255.4L1348.8 1255.5L1349.4 1255.3L1349.9 1254.6L1350.4 1255.0L1351.0 1255.2L1351.5 1255.3L1352.0 1254.6L1352.6 1255.0L1353.1 1254.3L1353.7 1255.0L1354.2 1254.9L1354.7 1254.9L1355.3 1255.7L1355.8 1255.2L1356.3 1254.8L1356.9 1254.7L1357.4 1254.7L1358.0 1255.4L1358.5 1255.6L1359.0 1254.9L1359.6 1255.1L1360.1 1254.9L1360.6 1255.3L1361.2 1255.1L1361.7 1254.8L1362.3 1254.5L1362.8 1255.3L1363.3 1254.2L1363.9 1253.9L1364.4 1253.4L1364.9 1255.6L1365.5 1254.7L1366.0 1255.2L1366.6 1255.1L1367.1 1255.3L1367.6 1255.4L1368.2 1254.5L1368.7 1254.9L1369.2 1255.6L1369.8 1255.1L1370.3 1254.5L1370.9 1254.6L1371.4 1254.4L1371.9 1255.3L1372.5 1255.1L1373.0 1254.4L1373.5 1254.7L1374.1 1255.1L1374.6 1255.2L1375.1 1255.0L1375.7 1255.1L1376.2 1255.3L1376.8 1254.4L1377.3 1254.7L1377.8 1255.7L1378.4 1255.5L1378.9 1254.5L1379.4 1254.8L1380.0 1255.8L1380.5 1255.3L1381.1 1255.0L1381.6 1255.4L1382.1 1255.5L1382.7 1255.6L1383.2 1254.4L1383.7 1254.4L1384.3 1254.7L1384.8 1255.0L1385.4 1254.8L1385.9 1255.1L1386.4 1255.6L1387.0 1255.3L1387.5 1255.3L1388.0 1254.8L1388.6 1255.6L1389.1 1255.0L1389.7 1255.0L1390.2 1254.9L1390.7 1254.3L1391.3 1256.2L1391.8 1255.2L1392.3 1255.7L1392.9 1256.4L1393.4 1255.1L1394.0 1254.8L1394.5 1255.7L1395.0 1255.3L1395.6 1254.7L1396.1 1255.5L1396.6 1254.9L1397.2 1254.5L1397.7 1253.8L1398.3 1254.4L1398.8 1255.0L1399.3 1254.3L1399.9 1255.2L1400.4 1255.8L1400.9 1254.9L1401.5 1254.8L1402.0 1254.7L1402.6 1255.1L1403.1 1254.7L1403.6 1255.3L1404.2 1255.5L1404.7 1255.3L1405.2 1254.5L1405.8 1255.2L1406.3 1254.9L1406.9 1255.2L1407.4 1255.4L1407.9 1254.5L1408.5 1254.8L1409.0 1255.4L1409.5 1254.4L1410.1 1254.8L1410.6 1255.2L1411.2 1254.8L1411.7 1255.4L1412.2 1254.5L1412.8 1254.3L1413.3 1255.1L1413.8 1254.8L1414.4 1254.8L1414.9 1255.1L1415.4 1255.1L1416.0 1254.5L1416.5 1254.5L1417.1 1253.9L1417.6 1254.4L1418.1 1255.0L1418.7 1255.1L1419.2 1254.3L1419.7 1255.4L1420.3 1255.1L1420.8 1255.6L1421.4 1255.1L1421.9 1255.6L1422.4 1254.9L1423.0 1254.5L1423.5 1254.9L1424.0 1255.5L1424.6 1255.3L1425.1 1254.3L1425.7 1255.1L1426.2 1255.3L1426.7 1255.5L1427.3 1255.2L1427.8 1255.2L1428.3 1254.2L1428.9 1254.9L1429.4 1253.8L1430.0 1254.6L1430.5 1254.7L1431.0 1254.5L1431.6 1254.3L1432.1 1254.7L1432.6 1255.0L1433.2 1254.6L1433.7 1255.1L1434.3 1255.2L1434.8 1254.9L1435.3 1255.9L1435.9 1255.0L1436.4 1254.7L1436.9 1254.4L1437.5 1255.7L1438.0 1255.5L1438.6 1255.2L1439.1 1255.2L1439.6 1254.9L1440.2 1255.4L1440.7 1255.1L1441.2 1255.1L1441.8 1255.0L1442.3 1254.6L1442.9 1254.1L1443.4 1255.4L1443.9 1254.7L1444.5 1255.4L1445.0 1255.6L1445.5 1256.1L1446.1 1254.9L1446.6 1255.4L1447.2 1255.5L1447.7 1254.8L1448.2 1254.7L1448.8 1255.2L1449.3 1255.9L1449.8 1255.5L1450.4 1255.3L1450.9 1254.6L1451.5 1255.4L1452.0 1255.6L1452.5 1254.5L1453.1 1255.0L1453.6 1254.9L1454.1 1255.2L1454.7 1254.3L1455.2 1255.1L1455.7 1254.9L1456.3 1254.7L1456.8 1253.9L1457.4 1253.9L1457.9 1254.5L1458.4 1255.1L1459.0 1254.9L1459.5 1255.1L1460.0 1254.0L1460.6 1254.8L1461.1 1255.4L1461.7 1254.1L1462.2 1255.2L1462.7 1254.7L1463.3 1255.2L1463.8 1254.9L1464.3 1254.2L1464.9 1254.5L1465.4 1255.5L1466.0 1254.9L1466.5 1255.4L1467.0 1254.9L1467.6 1255.1L1468.1 1254.5L1468.6 1254.8L1469.2 1254.5L1469.7 1255.0L1470.3 1254.5L1470.8 1255.2L1471.3 1255.6L1471.9 1254.5L1472.4 1254.9L1472.9 1255.3L1473.5 1255.9L1474.0 1255.5L1474.6 1255.2L1475.1 1254.4L1475.6 1255.6L1476.2 1254.9L1476.7 1255.2L1477.2 1255.3L1477.8 1254.5L1478.3 1255.6L1478.9 1255.4L1479.4 1255.2L1479.9 1255.1L1480.5 1254.9L1481.0 1254.3L1481.5 1254.5L1482.1 1255.0L1482.6 1254.5L1483.2 1254.7L1483.7 1254.7L1484.2 1254.5L1484.8 1254.6L1485.3 1254.9L1485.8 1254.8L1486.4 1254.3L1486.9 1254.7L1487.5 1255.3L1488.0 1254.7L1488.5 1255.3L1489.1 1255.3L1489.6 1254.6L1490.1 1253.8L1490.7 1255.0L1491.2 1254.7L1491.8 1254.6L1492.3 1255.1L1492.8 1254.5L1493.4 1255.0L1493.9 1254.9L1494.4 1254.9L1495.0 1255.7L1495.5 1254.1L1496.0 1255.5L1496.6 1255.0L1497.1 1254.9L1497.7 1254.7L1498.2 1255.0L1498.7 1255.0L1499.3 1254.6L1499.8 1255.5L1500.3 1254.4L1500.9 1254.8L1501.4 1254.3L1502.0 1255.0L1502.5 1255.1L1503.0 1255.4L1503.6 1255.4L1504.1 1254.8L1504.6 1255.9L1505.2 1255.0L1505.7 1255.8L1506.3 1255.7L1506.8 1254.9L1507.3 1254.7L1507.9 1255.4L1508.4 1255.8L1508.9 1255.2L1509.5 1255.4L1510.0 1255.1L1510.6 1255.2L1511.1 1255.5L1511.6 1254.7L1512.2 1254.1L1512.7 1254.8L1513.2 1254.6L1513.8 1254.5L1514.3 1255.0L1514.9 1255.5L1515.4 1254.2L1515.9 1254.4L1516.5 1255.5L1517.0 1254.8L1517.5 1255.1L1518.1 1255.8L1518.6 1255.6L1519.2 1255.3L1519.7 1255.4L1520.2 1254.1L1520.8 1255.5L1521.3 1255.3L1521.8 1254.5L1522.4 1255.1L1522.9 1255.3L1523.5 1255.1L1524.0 1255.5L1524.5 1255.5L1525.1 1255.2L1525.6 1255.1L1526.1 1254.7L1526.7 1255.7L1527.2 1255.1L1527.8 1255.2L1528.3 1255.8L1528.8 1255.4L1529.4 1254.5L1529.9 1255.0L1530.4 1254.6L1531.0 1254.3L1531.5 1254.6L1532.1 1255.3L1532.6 1255.1L1533.1 1254.8L1533.7 1255.0L1534.2 1254.4L1534.7 1254.7L1535.3 1255.1L1535.8 1255.5L1536.3 1255.0L1536.9 1255.1L1537.4 1255.4L1538.0 1255.9L1538.5 1254.7L1539.0 1255.3L1539.6 1255.1L1540.1 1255.0L1540.6 1255.2L1541.2 1254.4L1541.7 1255.3L1542.3 1255.1L1542.8 1254.6L1543.3 1255.6L1543.9 1255.1L1544.4 1255.0L1544.9 1255.5L1545.5 1254.6L1546.0 1254.6L1546.6 1255.4L1547.1 1255.4L1547.6 1255.9L1548.2 1254.7L1548.7 1254.2L1549.2 1254.2L1549.8 1254.5L1550.3 1255.1L1550.9 1254.8L1551.4 1254.6L1551.9 1254.6L1552.5 1254.8L1553.0 1255.0L1553.5 1255.6L1554.1 1255.2L1554.6 1255.6L1555.2 1255.3L1555.7 1255.3L1556.2 1255.5L1556.8 1255.3L1557.3 1255.7L1557.8 1255.5L1558.4 1255.9L1558.9 1255.2L1559.5 1254.9L1560.0 1256.4L1560.5 1255.1L1561.1 1255.4L1561.6 1255.1L1562.1 1255.1L1562.7 1255.6L1563.2 1254.8L1563.8 1255.2L1564.3 1255.6L1564.8 1255.0L1565.4 1255.4L1565.9 1255.3L1566.4 1254.9L1567.0 1254.8L1567.5 1255.0L1568.1 1254.4L1568.6 1255.2L1569.1 1254.4L1569.7 1254.5L1570.2 1254.5L1570.7 1254.3L1571.3 1254.1L1571.8 1255.1L1572.4 1255.1L1572.9 1255.1L1573.4 1255.8L1574.0 1254.8L1574.5 1255.1L1575.0 1254.4L1575.6 1254.9L1576.1 1254.0L1576.6 1255.5L1577.2 1254.3L1577.7 1254.7L1578.3 1255.2L1578.8 1254.0L1579.3 1255.6L1579.9 1254.7L1580.4 1255.3L1580.9 1255.4L1581.5 1254.9L1582.0 1255.2L1582.6 1254.5L1583.1 1254.8L1583.6 1253.6L1584.2 1255.3L1584.7 1254.3L1585.2 1254.2L1585.8 1254.7L1586.3 1255.4L1586.9 1254.4L1587.4 1255.0L1587.9 1254.9L1588.5 1254.7L1589.0 1254.7L1589.5 1255.5L1590.1 1255.5L1590.6 1254.7L1591.2 1255.2L1591.7 1255.2L1592.2 1255.3L1592.8 1255.1L1593.3 1255.1L1593.8 1255.1L1594.4 1254.5L1594.9 1254.9L1595.5 1255.2L1596.0 1254.6L1596.5 1255.2L1597.1 1254.5L1597.6 1254.1L1598.1 1254.5L1598.7 1254.1L1599.2 1255.1L1599.8 1254.2L1600.3 1254.9L1600.8 1254.7L1601.4 1254.7L1601.9 1255.1L1602.4 1255.2L1603.0 1254.8L1603.5 1255.4L1604.1 1255.0L1604.6 1255.6L1605.1 1255.8L1605.7 1255.5L1606.2 1255.6L1606.7 1254.6L1607.3 1255.4L1607.8 1254.5L1608.4 1255.0L1608.9 1255.5L1609.4 1254.2L1610.0 1254.9L1610.5 1254.8L1611.0 1254.8L1611.6 1255.2L1612.1 1255.5L1612.7 1254.7L1613.2 1254.8L1613.7 1254.3L1614.3 1254.7L1614.8 1254.2L1615.3 1254.2L1615.9 1254.9L1616.4 1255.0L1616.9 1254.2L1617.5 1254.6L1618.0 1254.2L1618.6 1255.1L1619.1 1255.3L1619.6 1253.7L1620.2 1254.3L1620.7 1254.5L1621.2 1254.8L1621.8 1255.8L1622.3 1255.5L1622.9 1254.9L1623.4 1255.1L1623.9 1254.1L1624.5 1254.8L1625.0 1254.8L1625.5 1254.9L1626.1 1255.1L1626.6 1254.6L1627.2 1254.7L1627.7 1256.0L1628.2 1254.4L1628.8 1255.2L1629.3 1255.6L1629.8 1255.4L1630.4 1255.4L1630.9 1254.5L1631.5 1254.9L1632.0 1254.7L1632.5 1256.2L1633.1 1255.5L1633.6 1255.7L1634.1 1255.3L1634.7 1254.8L1635.2 1255.5L1635.8 1255.5L1636.3 1255.2L1636.8 1255.3L1637.4 1255.3L1637.9 1254.7L1638.4 1255.1L1639.0 1255.0L1639.5 1255.0L1640.1 1255.4L1640.6 1256.0L1641.1 1254.3L1641.7 1255.7L1642.2 1255.1L1642.7 1255.8L1643.3 1254.9L1643.8 1255.1L1644.4 1255.6L1644.9 1255.1L1645.4 1255.2L1646.0 1254.7L1646.5 1254.7L1647.0 1255.9L1647.6 1255.3L1648.1 1255.1L1648.7 1254.6L1649.2 1254.9L1649.7 1254.7L1650.3 1255.1L1650.8 1254.9L1651.3 1254.8L1651.9 1254.5L1652.4 1254.9L1653.0 1255.5L1653.5 1254.3L1654.0 1254.5L1654.6 1255.5L1655.1 1254.4L1655.6 1254.8L1656.2 1255.0L1656.7 1255.7L1657.2 1254.0L1657.8 1253.6L1658.3 1254.6L1658.9 1255.0L1659.4 1254.6L1659.9 1254.2L1660.5 1254.7L1661.0 1253.9L1661.5 1255.0L1662.1 1255.2L1662.6 1254.6L1663.2 1255.1L1663.7 1254.2L1664.2 1255.2L1664.8 1254.4L1665.3 1254.3L1665.8 1254.2L1666.4 1253.9L1666.9 1255.0L1667.5 1255.6L1668.0 1254.1L1668.5 1254.8L1669.1 1255.1L1669.6 1254.6L1670.1 1254.2L1670.7 1255.0L1671.2 1255.2L1671.8 1254.7L1672.3 1254.1L1672.8 1254.4L1673.4 1253.5L1673.9 1254.4L1674.4 1255.0L1675.0 1255.0L1675.5 1254.6L1676.1 1254.9L1676.6 1254.5L1677.1 1254.8L1677.7 1254.6L1678.2 1255.0L1678.7 1254.6L1679.3 1254.9L1679.8 1255.0L1680.4 1254.7L1680.9 1254.1L1681.4 1254.8L1682.0 1254.4L1682.5 1254.1L1683.0 1254.7L1683.6 1254.0L1684.1 1254.8L1684.7 1254.6L1685.2 1254.1L1685.7 1254.1L1686.3 1254.4L1686.8 1254.2L1687.3 1255.0L1687.9 1253.7L1688.4 1254.6L1689.0 1254.4L1689.5 1254.0L1690.0 1254.5L1690.6 1254.0L1691.1 1254.2L1691.6 1253.7L1692.2 1253.7L1692.7 1254.1L1693.3 1254.2L1693.8 1254.2L1694.3 1253.8L1694.9 1254.4L1695.4 1253.6L1695.9 1252.9L1696.5 1252.5L1697.0 1252.6L1697.5 1252.6L1698.1 1251.9L1698.6 1252.7L1699.2 1252.3L1699.7 1251.7L1700.2 1251.1L1700.8 1249.8L1701.3 1247.6L1701.8 1244.2L1702.4 1238.9L1702.9 1230.4L1703.5 1221.1L1704.0 1209.4L1704.5 1197.2L1705.1 1189.8L1705.6 1185.5L1706.1 1189.7L1706.7 1196.2L1707.2 1205.9L1707.8 1212.8L1708.3 1219.2L1708.8 1222.9L1709.4 1227.0L1709.9 1230.9L1710.4 1235.2L1711.0 1239.3L1711.5 1244.1L1712.1 1246.8L1712.6 1249.1L1713.1 1251.1L1713.7 1251.3L1714.2 1253.0L1714.7 1253.3L1715.3 1253.1L1715.8 1252.6L1716.4 1253.8L1716.9 1253.4L1717.4 1253.7L1718.0 1253.9L1718.5 1254.2L1719.0 1254.0L1719.6 1253.1L1720.1 1253.7L1720.7 1254.3L1721.2 1254.2L1721.7 1254.5L1722.3 1254.4L1722.8 1254.9L1723.3 1253.9L1723.9 1254.9L1724.4 1254.4L1725.0 1254.2L1725.5 1254.4L1726.0 1254.0L1726.6 1254.4L1727.1 1254.1L1727.6 1254.7L1728.2 1253.9L1728.7 1254.7L1729.3 1253.7L1729.8 1254.1L1730.3 1254.4L1730.9 1254.7L1731.4 1254.3L1731.9 1254.4L1732.5 1254.8L1733.0 1255.2L1733.6 1255.4L1734.1 1254.6L1734.6 1254.9L1735.2 1254.6L1735.7 1254.1L1736.2 1254.7L1736.8 1255.3L1737.3 1254.3L1737.8 1256.3L1738.4 1255.5L1738.9 1255.7L1739.5 1255.1L1740.0 1254.0L1740.5 1255.2L1741.1 1255.9L1741.6 1254.9L1742.1 1255.6L1742.7 1255.2L1743.2 1255.3L1743.8 1255.3L1744.3 1255.1L1744.8 1255.2L1745.4 1255.3L1745.9 1255.0L1746.4 1255.2L1747.0 1255.2L1747.5 1255.1L1748.1 1254.6L1748.6 1254.1L1749.1 1254.4L1749.7 1254.4L1750.2 1254.4L1750.7 1255.2L1751.3 1254.9L1751.8 1255.6L1752.4 1256.3L1752.9 1255.4L1753.4 1254.9L1754.0 1255.2L1754.5 1254.9L1755.0 1255.3L1755.6 1255.8L1756.1 1255.8L1756.7 1255.8L1757.2 1255.3L1757.7 1255.9L1758.3 1255.6L1758.8 1255.5L1759.3 1254.5L1759.9 1254.8L1760.4 1255.0L1761.0 1254.9L1761.5 1254.8L1762.0 1254.1L1762.6 1254.6L1763.1 1255.0L1763.6 1255.2L1764.2 1254.7L1764.7 1255.3L1765.3 1256.0L1765.8 1255.2L1766.3 1254.4L1766.9 1255.1L1767.4 1255.1L1767.9 1255.5L1768.5 1254.9L1769.0 1255.3L1769.6 1254.9L1770.1 1255.3L1770.6 1255.5L1771.2 1255.6L1771.7 1255.1L1772.2 1255.5L1772.8 1256.8L1773.3 1254.7L1773.9 1255.2L1774.4 1255.4L1774.9 1254.9L1775.5 1255.6L1776.0 1255.0L1776.5 1255.3L1777.1 1255.2L1777.6 1254.6L1778.1 1255.5L1778.7 1256.0L1779.2 1255.5L1779.8 1255.1L1780.3 1254.3L1780.8 1255.1L1781.4 1254.8L1781.9 1254.5L1782.4 1254.1L1783.0 1255.1L1783.5 1255.0L1784.1 1254.9L1784.6 1255.6L1785.1 1254.0L1785.7 1254.9L1786.2 1254.8L1786.7 1255.2L1787.3 1254.8L1787.8 1254.5L1788.4 1254.9L1788.9 1255.1L1789.4 1254.6L1790.0 1254.6L1790.5 1255.0L1791.0 1255.4L1791.6 1254.7L1792.1 1254.9L1792.7 1254.6L1793.2 1254.7L1793.7 1254.9L1794.3 1255.2L1794.8 1255.5L1795.3 1254.9L1795.9 1255.2L1796.4 1256.0L1797.0 1255.5L1797.5 1254.8L1798.0 1255.0L1798.6 1254.1L1799.1 1253.8L1799.6 1254.3L1800.2 1254.1L1800.7 1253.7L1801.3 1254.8L1801.8 1254.3L1802.3 1254.7L1802.9 1254.7L1803.4 1254.8L1803.9 1254.4L1804.5 1255.8L1805.0 1254.1L1805.6 1254.9L1806.1 1255.1L1806.6 1254.8L1807.2 1254.9L1807.7 1254.9L1808.2 1254.9L1808.8 1254.9L1809.3 1255.5L1809.9 1255.3L1810.4 1255.8L1810.9 1255.2L1811.5 1254.3L1812.0 1254.6L1812.5 1255.0L1813.1 1255.3L1813.6 1254.2L1814.2 1254.7L1814.7 1255.4L1815.2 1254.9L1815.8 1254.5L1816.3 1254.6L1816.8 1254.6L1817.4 1254.3L1817.9 1254.5L1818.4 1254.5L1819.0 1254.9L1819.5 1255.4L1820.1 1255.3L1820.6 1254.4L1821.1 1256.0L1821.7 1255.1L1822.2 1254.5L1822.7 1254.4L1823.3 1255.1L1823.8 1255.2L1824.4 1254.7L1824.9 1254.6L1825.4 1254.8L1826.0 1254.9L1826.5 1255.1L1827.0 1255.1L1827.6 1253.9L1828.1 1254.7L1828.7 1255.0L1829.2 1255.1L1829.7 1255.4L1830.3 1254.3L1830.8 1255.6L1831.3 1254.3L1831.9 1254.8L1832.4 1254.8L1833.0 1254.8L1833.5 1254.6L1834.0 1255.2L1834.6 1255.4L1835.1 1255.2L1835.6 1254.5L1836.2 1254.7L1836.7 1254.9L1837.3 1255.2L1837.8 1254.9L1838.3 1255.1L1838.9 1256.3L1839.4 1255.2L1839.9 1255.2L1840.5 1254.2L1841.0 1254.8L1841.6 1255.8L1842.1 1255.4L1842.6 1254.6L1843.2 1255.5L1843.7 1255.1L1844.2 1254.8L1844.8 1255.6L1845.3 1254.9L1845.9 1255.1L1846.4 1255.2L1846.9 1255.1L1847.5 1254.7L1848.0 1255.2L1848.5 1254.8L1849.1 1254.9L1849.6 1255.1L1850.2 1254.5L1850.7 1254.2L1851.2 1254.8L1851.8 1255.5L1852.3 1255.1L1852.8 1255.1L1853.4 1254.6L1853.9 1254.3L1854.5 1254.3L1855.0 1254.3L1855.5 1254.7L1856.1 1254.1L1856.6 1254.7L1857.1 1254.0L1857.7 1255.0L1858.2 1254.7L1858.7 1254.0L1859.3 1254.7L1859.8 1255.0L1860.4 1255.1L1860.9 1255.1L1861.4 1254.7L1862.0 1254.9L1862.5 1254.9L1863.0 1255.2L1863.6 1254.7L1864.1 1254.8L1864.7 1255.0L1865.2 1254.9L1865.7 1254.7L1866.3 1255.6L1866.8 1255.4L1867.3 1254.8L1867.9 1256.2L1868.4 1255.2L1869.0 1255.0L1869.5 1255.3L1870.0 1255.7L1870.6 1256.2L1871.1 1256.1L1871.6 1255.6L1872.2 1255.1L1872.7 1255.3L1873.3 1254.7L1873.8 1254.6L1874.3 1255.1L1874.9 1254.8L1875.4 1254.7L1875.9 1254.3L1876.5 1255.0L1877.0 1254.3L1877.6 1255.3L1878.1 1255.0L1878.6 1254.8L1879.2 1254.9L1879.7 1256.2L1880.2 1256.3L1880.8 1254.6L1881.3 1255.4L1881.9 1253.7L1882.4 1255.4L1882.9 1254.9L1883.5 1255.0L1884.0 1254.6L1884.5 1254.4L1885.1 1255.2L1885.6 1254.9L1886.2 1255.2L1886.7 1255.4L1887.2 1254.9L1887.8 1255.2L1888.3 1255.1L1888.8 1255.1L1889.4 1254.6L1889.9 1255.0L1890.5 1255.3L1891.0 1255.2L1891.5 1254.9L1892.1 1254.6L1892.6 1254.6L1893.1 1255.9L1893.7 1255.7L1894.2 1255.2L1894.8 1255.1L1895.3 1254.9L1895.8 1255.2L1896.4 1255.2L1896.9 1254.8L1897.4 1255.0L1898.0 1255.4L1898.5 1254.4L1899.0 1254.7L1899.6 1254.8L1900.1 1254.7L1900.7 1255.0L1901.2 1254.7L1901.7 1254.9L1902.3 1255.3L1902.8 1254.6L1903.3 1255.1L1903.9 1255.6L1904.4 1255.0L1905.0 1254.5L1905.5 1254.9L1906.0 1255.5L1906.6 1254.9L1907.1 1254.8L1907.6 1255.5L1908.2 1254.8L1908.7 1254.6L1909.3 1255.2L1909.8 1254.9L1910.3 1254.8L1910.9 1255.2L1911.4 1255.5L1911.9 1255.5L1912.5 1255.1L1913.0 1255.5L1913.6 1255.6L1914.1 1254.8L1914.6 1256.2L1915.2 1255.2L1915.7 1255.3L1916.2 1255.1L1916.8 1255.0L1917.3 1255.8L1917.9 1255.2L1918.4 1255.0L1918.9 1254.4L1919.5 1255.1L1920.0 1254.9L1920.5 1254.5L1921.1 1254.9L1921.6 1254.1L1922.2 1255.3L1922.7 1254.5L1923.2 1255.1L1923.8 1255.0L1924.3 1254.0L1924.8 1254.5L1925.4 1254.5L1925.9 1255.1L1926.5 1255.1L1927.0 1255.1L1927.5 1255.6L1928.1 1254.8L1928.6 1254.8L1929.1 1254.1L1929.7 1254.6L1930.2 1255.5L1930.8 1254.9L1931.3 1254.9L1931.8 1255.8L1932.4 1254.2L1932.9 1255.9L1933.4 1256.0L1934.0 1254.6L1934.5 1255.3L1935.1 1255.0L1935.6 1255.4L1936.1 1254.6L1936.7 1254.7L1937.2 1255.3L1937.7 1254.4L1938.3 1254.9L1938.8 1255.2L1939.3 1254.9L1939.9 1255.4L1940.4 1255.4L1941.0 1255.6L1941.5 1254.6L1942.0 1255.0L1942.6 1255.5L1943.1 1255.8L1943.6 1255.7L1944.2 1254.9L1944.7 1254.5L1945.3 1254.4L1945.8 1254.0L1946.3 1254.6L1946.9 1255.2L1947.4 1254.8L1947.9 1254.4L1948.5 1255.1L1949.0 1255.3L1949.6 1255.0L1950.1 1255.8L1950.6 1255.3L1951.2 1255.5L1951.7 1255.2L1952.2 1254.6L1952.8 1255.5L1953.3 1255.4L1953.9 1254.6L1954.4 1254.3L1954.9 1255.4L1955.5 1254.7L1956.0 1254.5L1956.5 1255.0L1957.1 1255.4L1957.6 1254.8L1958.2 1255.1L1958.7 1255.7L1959.2 1255.4L1959.8 1254.4L1960.3 1255.4L1960.8 1255.7L1961.4 1255.3L1961.9 1255.1L1962.5 1255.3L1963.0 1254.3L1963.5 1254.7L1964.1 1254.8L1964.6 1255.9L1965.1 1255.1L1965.7 1254.4L1966.2 1255.4L1966.8 1255.3L1967.3 1254.1L1967.8 1254.6L1968.4 1254.0L1968.9 1255.2L1969.4 1253.7L1970.0 1255.7L1970.5 1254.4L1971.1 1254.4L1971.6 1255.7L1972.1 1255.0L1972.7 1254.9L1973.2 1255.2L1973.7 1254.4L1974.3 1255.3L1974.8 1254.8L1975.4 1255.3L1975.9 1255.2L1976.4 1255.9L1977.0 1254.9L1977.5 1254.9L1978.0 1255.9L1978.6 1256.5L1979.1 1255.7L1979.6 1255.3L1980.2 1255.7L1980.7 1254.9L1981.3 1255.2L1981.8 1254.4L1982.3 1255.1L1982.9 1255.4L1983.4 1255.8L1983.9 1254.9L1984.5 1255.3L1985.0 1255.5L1985.6 1254.5L1986.1 1254.7L1986.6 1254.0L1987.2 1254.4L1987.7 1255.1L1988.2 1254.1L1988.8 1254.8L1989.3 1255.2L1989.9 1255.5L1990.4 1254.0L1990.9 1255.1L1991.5 1254.7L1992.0 1254.0L1992.5 1254.6L1993.1 1255.4L1993.6 1255.3L1994.2 1255.4L1994.7 1254.9L1995.2 1255.4L1995.8 1254.5L1996.3 1254.5L1996.8 1254.8L1997.4 1254.0L1997.9 1255.3L1998.5 1254.9L1999.0 1254.6L1999.5 1254.7L2000.1 1255.0L2000.6 1255.4L2001.1 1255.1L2001.7 1255.7L2002.2 1254.9L2002.8 1255.3L2003.3 1254.7L2003.8 1255.1L2004.4 1255.8L2004.9 1255.2L2005.4 1255.6L2006.0 1255.2L2006.5 1254.5L2007.1 1254.6L2007.6 1254.5L2008.1 1255.0L2008.7 1254.9L2009.2 1256.0L2009.7 1255.5L2010.3 1255.1L2010.8 1254.5L2011.4 1254.9L2011.9 1254.5L2012.4 1256.0L2013.0 1254.7L2013.5 1255.5L2014.0 1254.4L2014.6 1255.1L2015.1 1254.2L2015.7 1254.6L2016.2 1254.8L2016.7 1254.9L2017.3 1254.8L2017.8 1254.8L2018.3 1254.5L2018.9 1254.9L2019.4 1254.9L2019.9 1254.5L2020.5 1255.1L2021.0 1254.9L2021.6 1254.5L2022.1 1255.3L2022.6 1254.6L2023.2 1254.1L2023.7 1255.6L2024.2 1254.8L2024.8 1255.6L2025.3 1255.1L2025.9 1254.4L2026.4 1255.2L2026.9 1255.0L2027.5 1255.1L2028.0 1254.7L2028.5 1255.3L2029.1 1255.1L2029.6 1254.8L2030.2 1254.3L2030.7 1254.9L2031.2 1254.9L2031.8 1254.4L2032.3 1254.8L2032.8 1255.6L2033.4 1254.9L2033.9 1255.5L2034.5 1254.7L2035.0 1254.8L2035.5 1255.6L2036.1 1255.1L2036.6 1255.2L2037.1 1255.4L2037.7 1255.7L2038.2 1254.4L2038.8 1255.2L2039.3 1255.0L2039.8 1254.9L2040.4 1255.6L2040.9 1254.7L2041.4 1254.5L2042.0 1254.9L2042.5 1253.9L2043.1 1254.8L2043.6 1254.2L2044.1 1254.7L2044.7 1254.4L2045.2 1254.8L2045.7 1254.7L2046.3 1254.5L2046.8 1255.0L2047.4 1255.1L2047.9 1254.2L2048.4 1254.4L2049.0 1254.8L2049.5 1254.9L2050.0 1255.6L2050.6 1255.7L2051.1 1255.3L2051.7 1255.7L2052.2 1255.1L2052.7 1254.7L2053.3 1255.5L2053.8 1254.6L2054.3 1256.1L2054.9 1255.5L2055.4 1256.0L2056.0 1255.2L2056.5 1254.6L2057.0 1255.3L2057.6 1255.4L2058.1 1255.2L2058.6 1255.0L2059.2 1255.1L2059.7 1254.8L2060.2 1255.4L2060.8 1254.2L2061.3 1253.7L2061.9 1254.8L2062.4 1254.9L2062.9 1254.2L2063.5 1254.8L2064.0 1255.1L2064.5 1255.0L2065.1 1255.2L2065.6 1254.5L2066.2 1254.1L2066.7 1255.1L2067.2 1254.7L2067.8 1254.3L2068.3 1255.4L2068.8 1255.0L2069.4 1253.5L2069.9 1256.1L2070.5 1255.1L2071.0 1254.3L2071.5 1255.1L2072.1 1254.9L2072.6 1255.3L2073.1 1254.9L2073.7 1254.1L2074.2 1254.8L2074.8 1254.8L2075.3 1255.2L2075.8 1255.1L2076.4 1255.5L2076.9 1254.9L2077.4 1255.3L2078.0 1255.3L2078.5 1255.6L2079.1 1254.7L2079.6 1255.4L2080.1 1256.4L2080.7 1254.6L2081.2 1255.6L2081.7 1255.2L2082.3 1255.4L2082.8 1255.0L2083.4 1255.0L2083.9 1255.0L2084.4 1255.1L2085.0 1254.4L2085.5 1254.9L2086.0 1255.8L2086.6 1255.6L2087.1 1254.8L2087.7 1254.7L2088.2 1255.1L2088.7 1255.7L2089.3 1255.6L2089.8 1255.0L2090.3 1254.2L2090.9 1255.2L2091.4 1254.4L2092.0 1255.7L2092.5 1255.7L2093.0 1255.3L2093.6 1255.3L2094.1 1255.2L2094.6 1255.8L2095.2 1255.6L2095.7 1255.8L2096.3 1254.8L2096.8 1255.1L2097.3 1255.5L2097.9 1254.5L2098.4 1255.2L2098.9 1255.2L2099.5 1255.1L2100.0 1256.3L2100.5 1254.8L2101.1 1254.8L2101.6 1254.7L2102.2 1254.6L2102.7 1254.3L2103.2 1255.5L2103.8 1255.0L2104.3 1255.1L2104.8 1255.1L2105.4 1255.0L2105.9 1254.6L2106.5 1255.2L2107.0 1255.4L2107.5 1255.2L2108.1 1255.7L2108.6 1255.1L2109.1 1255.1L2109.7 1255.2L2110.2 1255.2L2110.8 1255.3L2111.3 1255.9L2111.8 1255.1L2112.4 1255.3L2112.9 1254.9L2113.4 1255.7L2114.0 1255.4L2114.5 1254.8L2115.1 1254.7L2115.6 1254.7L2116.1 1255.0L2116.7 1255.2L2117.2 1254.8L2117.7 1254.9L2118.3 1255.0L2118.8 1256.0L2119.4 1255.5L2119.9 1255.9L2120.4 1255.0L2121.0 1254.9L2121.5 1255.7L2122.0 1254.9L2122.6 1255.0L2123.1 1254.6L2123.7 1254.5L2124.2 1255.3L2124.7 1254.6L2125.3 1254.8L2125.8 1254.4L2126.3 1255.3L2126.9 1255.2L2127.4 1255.5L2128.0 1254.9L2128.5 1254.5L2129.0 1255.6L2129.6 1255.0L2130.1 1255.4L2130.6 1254.6L2131.2 1254.5L2131.7 1253.7L2132.3 1255.0L2132.8 1255.4L2133.3 1255.5L2133.9 1255.6L2134.4 1254.0L2134.9 1254.3L2135.5 1254.5L2136.0 1254.6L2136.6 1254.9L2137.1 1254.7L2137.6 1254.4L2138.2 1255.0L2138.7 1255.1L2139.2 1254.5L2139.8 1254.9L2140.3 1254.2L2140.8 1254.5L2141.4 1254.3L2141.9 1254.2L2142.5 1254.2L2143.0 1253.6L2143.5 1253.5L2144.1 1253.7L2144.6 1254.2L2145.1 1253.3L2145.7 1253.2L2146.2 1254.2L2146.8 1252.8L2147.3 1252.0L2147.8 1250.6L2148.4 1249.7L2148.9 1247.0L2149.4 1244.1L2150.0 1241.5L2150.5 1237.5L2151.1 1235.2L2151.6 1235.8L2152.1 1236.6L2152.7 1238.3L2153.2 1241.3L2153.7 1243.2L2154.3 1246.1L2154.8 1245.9L2155.4 1247.5L2155.9 1248.4L2156.4 1248.8L2157.0 1249.2L2157.5 1250.3L2158.0 1251.7L2158.6 1253.5L2159.1 1254.1L2159.7 1255.2L2160.2 1256.4L2160.7 1256.4L2161.3 1256.7L2161.8 1256.5L2162.3 1256.4L2162.9 1255.2L2163.4 1255.7L2164.0 1256.0L2164.5 1255.4L2165.0 1255.5L2165.6 1255.7L2166.1 1256.7L2166.6 1255.1L2167.2 1254.9L2167.7 1254.6L2168.3 1255.6L2168.8 1255.3L2169.3 1254.8L2169.9 1254.9L2170.4 1255.4L2170.9 1255.4L2171.5 1255.1L2172.0 1255.4L2172.6 1255.3L2173.1 1254.7L2173.6 1255.2L2174.2 1255.0L2174.7 1255.3L2175.2 1255.2L2175.8 1256.0L2176.3 1254.3L2176.9 1255.0L2177.4 1254.4L2177.9 1255.8L2178.5 1254.7L2179.0 1254.8" fill="none" stroke="#000" stroke-width="7.6" stroke-linejoin="round" stroke-linecap="butt"/>
<path d="M692.7 963.5L693.9 963.5L701.8 1216L702.6 1232L704.5 1243L709 1251L677 1251L682 1243L684 1232L684.8 1216Z" fill="#000"/><path d="M692.6 1224L692.9 1257.6" stroke="#fff" stroke-width="1.3" fill="none"/>
<g stroke="#000" stroke-width="3" fill="none">
<path d="M1234 46.5H2132"/><path d="M1235.5 45V622"/><path d="M2130.5 45V632"/><path d="M1234 620.5H2132"/>
<path d="M1235.5 620.5V632"/>
<path d="M1414.5 620.5V632"/>
<path d="M1593.5 620.5V632"/>
<path d="M1772.5 620.5V632"/>
<path d="M1951.5 620.5V632"/>
<path d="M2130.5 620.5V632"/>
<path d="M1324.5 620.5V627"/>
<path d="M1503.5 620.5V627"/>
<path d="M1682.5 620.5V627"/>
<path d="M1861.5 620.5V627"/>
<path d="M2040.5 620.5V627"/>
</g>
<path d="M1729 535V620" stroke="#000" stroke-width="4" fill="none"/>
<ellipse cx="1729" cy="535" rx="10.2" ry="9.2"/>
<path d="M1235.4 338.4L1236.4 322.1L1239.9 317.8L1244.2 327.0L1247.7 324.9L1249.2 334.8L1251.3 327.8L1252.7 302.2L1256.3 299.4L1258.4 309.3L1263.4 308.6L1265.5 327.8L1267.2 359.0L1271.2 330.6L1272.6 329.9L1279.0 339.8L1283.9 317.1L1286.1 318.5L1288.9 339.1L1293.2 346.9L1295.3 334.8L1301.0 322.8L1303.8 330.6L1306.7 344.8L1311.6 340.5L1314.5 352.6L1317.3 354.0L1320.8 332.0L1325.8 336.3L1328.7 352.6L1331.5 356.1L1335.0 350.5L1338.6 349.0L1340.0 335.6L1341.4 337.0L1345.0 356.8L1348.5 327.8L1350.7 327.8L1354.2 340.5L1358.5 323.5L1359.9 324.9L1363.1 365.4L1368.4 345.5L1370.5 346.2L1373.4 354.7L1377.6 355.4L1380.5 346.9L1385.4 348.3L1388.3 334.8L1391.1 337.0L1395.8 361.8L1399.6 329.9L1405.3 328.5L1408.9 321.4L1411.0 322.8L1414.5 351.9L1417.4 355.4L1425.9 340.5L1428.0 343.4L1430.9 356.8L1434.4 354.0L1440.1 334.8L1442.2 336.3L1445.8 348.3L1450.7 344.8L1456.4 331.3L1458.5 334.1L1462.8 363.9L1468.5 349.0L1473.4 353.3L1475.6 339.8L1480.5 359.0L1484.1 347.6L1489.0 329.9L1491.2 337.7L1496.9 339.8L1501.8 337.7L1504.7 367.5L1510.3 328.5L1512.5 330.6L1516.7 354.7L1521.7 323.5L1523.1 325.6L1526.0 346.2L1528.1 344.8L1530.0 317.8L1533.5 315.0L1535.7 320.7L1537.8 343.4L1539.9 349.0L1543.5 344.8L1547.0 339.8L1549.2 332.7L1551.3 344.1L1556.3 342.7L1559.1 336.3L1563.4 304.3L1565.5 317.8L1568.0 341.9L1570.9 346.9L1572.6 333.4L1575.4 333.4L1579.4 345.5L1581.8 332.7L1584.6 315.0L1586.8 315.7L1591.0 342.7L1593.9 346.9L1598.1 337.7L1601.7 334.8L1605.2 313.6L1607.8 310.0L1610.2 315.0L1613.7 334.8L1618.0 344.1L1622.3 343.4L1624.4 329.9L1626.5 327.0L1630.8 334.1L1633.6 329.9L1637.9 307.2L1640.0 307.9L1642.8 314.3L1647.8 315.0L1651.4 331.3L1653.5 327.8L1656.3 315.7L1662.0 310.7L1668.4 299.4L1670.5 302.2L1674.8 315.0L1677.6 317.1L1680.5 309.3L1685.4 278.1L1686.8 275.9L1690.4 286.6L1691.8 286.6L1693.9 277.4L1698.9 288.0L1702.5 278.8L1706.0 278.8L1709.6 263.9L1711.0 268.1L1715.2 266.7L1717.4 261.0L1720.2 242.6L1723.8 229.1L1728.0 225.6L1730.9 231.9L1735.8 234.8L1737.9 256.8L1740.1 283.7L1741.5 269.6L1742.9 276.7L1744.6 266.0L1747.2 283.7L1750.7 278.8L1754.3 275.2L1758.5 299.4L1761.4 312.1L1763.5 317.1L1766.3 309.3L1768.5 312.8L1770.6 307.9L1773.4 313.6L1775.6 309.3L1777.7 322.1L1779.8 307.2L1785.5 312.1L1789.8 300.8L1791.9 305.0L1795.4 322.1L1798.3 327.0L1801.1 326.3L1803.2 315.0L1806.1 310.0L1808.2 324.2L1810.3 323.5L1813.2 313.6L1815.3 319.2L1816.7 341.9L1819.6 338.4L1822.4 324.2L1825.2 323.5L1829.5 339.1L1830.0 341.9L1833.5 346.9L1835.7 334.1L1838.5 332.0L1842.8 339.8L1845.6 333.4L1848.5 333.4L1851.3 349.0L1853.4 350.5L1855.6 337.7L1857.7 337.7L1861.2 354.7L1864.1 355.4L1867.6 343.4L1871.2 342.7L1875.4 332.0L1879.7 344.8L1881.8 344.1L1887.5 335.6L1891.0 348.3L1893.2 347.6L1896.0 327.8L1898.1 328.5L1901.7 340.5L1905.2 366.1L1910.9 366.1L1913.0 371.8L1915.2 368.9L1919.4 348.3L1921.6 351.2L1926.5 377.4L1929.4 353.3L1931.5 338.4L1935.0 363.2L1937.9 350.5L1940.0 352.6L1943.6 368.9L1945.7 363.2L1949.2 341.9L1952.1 344.1L1954.9 360.4L1957.8 362.5L1959.2 347.6L1962.0 348.3L1964.1 352.6L1966.3 367.5L1971.2 349.0L1973.4 355.4L1976.9 370.3L1982.6 371.0L1986.1 349.0L1990.4 349.0L1993.9 367.5L1998.9 354.0L2001.8 357.6L2003.2 372.5L2006.7 371.8L2008.9 370.3L2011.7 372.5L2015.2 361.8L2018.8 368.2L2021.6 366.1L2025.2 366.1L2027.3 373.2L2030.1 375.3L2033.7 383.8L2035.8 373.2L2037.9 353.3L2040.8 349.0L2044.3 354.0L2048.6 365.4L2052.9 361.1L2055.0 363.2L2057.1 371.8L2061.4 371.8L2064.2 372.5L2067.0 350.5L2069.2 344.8L2072.0 359.0L2075.6 378.1L2078.4 350.5L2080.5 341.2L2084.8 371.8L2089.8 363.9L2094.0 376.0L2096.9 383.1L2101.1 363.9L2105.4 363.2L2108.2 354.7L2113.2 367.5L2117.4 358.3L2122.4 362.5L2126.7 362.5L2128.8 359.7L2130.2 363.2" fill="none" stroke="#ff0000" stroke-width="3.6" stroke-linejoin="round"/>
<path d="M1236.4 472.6L1239.9 464.8L1243.5 470.5L1247.0 469.7L1249.9 461.9L1252.7 472.6L1256.3 465.5L1259.1 469.0L1264.1 460.5L1268.3 478.3L1271.9 467.6L1275.7 454.8L1279.0 468.3L1283.2 473.3L1287.5 459.1L1291.0 466.9L1294.2 484.6L1298.1 472.6L1303.8 464.8L1307.4 470.5L1313.0 465.5L1315.2 469.0L1317.3 466.2L1320.1 475.4L1323.7 469.7L1329.4 468.3L1331.5 464.1L1335.7 472.6L1339.3 461.9L1345.0 466.9L1350.4 459.1L1353.5 466.9L1357.0 479.7L1361.3 460.5L1364.1 459.8L1367.0 471.2L1371.2 454.8L1377.6 471.2L1381.2 465.5L1384.0 470.5L1389.0 465.5L1394.7 474.7L1398.2 474.0L1402.5 466.2L1407.4 469.0L1411.0 475.4L1417.4 467.6L1422.3 477.6L1429.4 464.1L1435.8 473.3L1438.7 466.2L1444.3 469.0L1449.3 469.0L1452.9 480.4L1456.4 467.6L1458.5 472.6L1464.2 461.9L1471.3 467.6L1479.1 479.7L1486.9 469.0L1491.2 473.3L1494.0 467.6L1498.3 480.4L1501.8 468.3L1506.1 475.4L1512.5 479.0L1515.3 468.3L1519.6 465.5L1522.4 479.7L1526.0 471.9L1530.0 472.6L1534.3 464.1L1538.5 472.6L1543.5 474.7L1547.7 471.2L1551.3 479.7L1555.3 486.8L1557.7 469.7L1560.5 470.5L1564.1 479.7L1568.3 464.8L1571.9 464.1L1576.8 471.2L1579.7 471.9L1583.2 467.6L1585.4 476.8L1588.9 469.0L1592.5 475.4L1596.7 474.0L1598.8 476.8L1603.8 469.7L1609.5 473.3L1615.2 475.4L1620.1 469.7L1622.3 472.6L1624.8 481.8L1629.4 479.7L1634.3 476.8L1643.6 476.1L1647.8 479.0L1652.1 473.3L1655.6 481.8L1657.8 483.2L1664.1 474.7L1668.4 483.2L1671.2 476.8L1676.9 482.5L1683.3 472.6L1688.3 481.8L1690.4 480.4L1693.9 482.5L1697.5 479.0L1699.6 469.0L1702.5 478.3L1706.0 480.4L1708.9 483.9L1712.4 473.3L1716.7 471.9L1720.2 483.9L1723.8 475.4L1727.3 472.6L1729.7 493.9L1732.3 475.4L1737.2 476.8L1740.1 480.4L1744.3 475.4L1748.6 475.4L1750.7 469.0L1752.9 480.4L1755.7 472.6L1759.2 479.0L1762.1 491.7L1765.6 475.4L1769.2 464.1L1773.4 486.8L1777.7 473.3L1782.7 474.7L1789.8 469.7L1794.0 481.1L1797.6 472.6L1802.5 481.1L1808.2 476.8L1812.5 481.8L1821.0 473.3L1823.1 481.8L1827.4 473.3L1830.0 477.6L1834.3 477.6L1837.1 474.7L1842.8 478.3L1847.0 471.9L1851.3 476.8L1855.6 469.7L1859.8 479.0L1866.2 478.3L1869.5 471.9L1875.4 479.7L1879.0 485.4L1882.5 469.7L1888.2 472.6L1893.2 472.6L1896.7 481.8L1900.3 483.2L1904.5 476.8L1908.8 479.7L1911.6 474.7L1915.9 479.0L1918.7 469.7L1923.7 471.9L1927.9 474.7L1931.5 469.7L1935.0 469.0L1937.9 474.7L1942.1 464.8L1945.7 469.0L1949.2 466.2L1950.7 476.8L1954.2 470.5L1959.9 474.7L1963.4 471.2L1965.6 474.7L1970.5 471.2L1974.1 479.0L1976.2 469.0L1979.0 474.0L1983.6 458.4L1986.8 471.2L1990.4 479.0L1994.9 457.7L1997.5 471.2L1999.6 484.6L2002.5 476.1L2007.4 476.8L2011.0 474.0L2013.4 483.9L2016.2 465.5L2018.1 478.3L2023.0 474.7L2025.2 466.9L2030.1 468.3L2032.3 477.6L2038.7 469.7L2041.5 472.6L2045.8 469.7L2051.4 474.7L2057.8 469.7L2064.2 478.3L2068.5 473.3L2072.0 484.6L2077.0 469.0L2080.5 473.3L2084.1 469.0L2089.8 469.7L2092.6 476.1L2095.4 466.9L2099.0 469.0L2102.5 464.1L2106.1 469.0L2108.9 479.7L2116.7 466.9L2119.6 467.6L2123.8 479.7L2128.8 469.7" fill="none" stroke="#000" stroke-width="3.6" stroke-linejoin="round"/>
<text transform="translate(910.30 1687) scale(1.0572 1)" font-size="99"><tspan>2</tspan><tspan dx="-0.60" font-size="104.0" stroke="#000" stroke-width="2.1" stroke-linejoin="round">θ</tspan><tspan dx="0.20"> (degrees)</tspan></text>
<text transform="translate(611.60 145.00) scale(0.9702 1)" font-size="83.00" stroke="#000" stroke-width="0.50" stroke-linejoin="round">(110)</text>
<text transform="translate(1171.60 988.00) scale(0.9536 1)" font-size="83.00" stroke="#000" stroke-width="0.50" stroke-linejoin="round">(200)</text>
<text transform="translate(1626.20 903.90) scale(0.9785 1)" font-size="83.00" stroke="#000" stroke-width="0.50" stroke-linejoin="round">(211)</text>
<text transform="translate(2024.20 1048.90) scale(0.9537 1)" font-size="83.00" stroke="#000" stroke-width="0.50" stroke-linejoin="round">(220)</text>
<text transform="translate(172.60 1186.00) scale(1.0666 1)" font-size="79.40" stroke="#000" stroke-width="0.48" stroke-linejoin="round">Nanoparticles</text>
<text transform="translate(175.60 1339.00) scale(1.0447 1)" font-size="79.40" stroke="#000" stroke-width="0.48" stroke-linejoin="round">Microparticles</text>
<text transform="translate(169.00 1457.30) scale(0.9543 1)" font-size="80.00" stroke="#000" stroke-width="0.48" stroke-linejoin="round">JCPDS 06-0696</text>
<text transform="translate(1240.60 413.20) scale(1.1256 1)" font-size="52.00" stroke="#000" stroke-width="0.31" stroke-linejoin="round">Nanoparticles</text>
<text transform="translate(1240.00 531.20) scale(1.1010 1)" font-size="52.00" stroke="#000" stroke-width="0.31" stroke-linejoin="round">Microparticles</text>
<text transform="translate(1240.20 610.20) scale(1.0149 1)" font-size="52.30" stroke="#000" stroke-width="0.31" stroke-linejoin="round">JCPDS 19-0629</text>
<text transform="translate(1492.60 739.80) scale(1.0229 1)" font-size="75.00">2θ (degrees)</text>
<text transform="translate(240.40 1582.00) scale(1.0009 1)" font-size="83.00" stroke="#000" stroke-width="0.50" stroke-linejoin="round">30</text>
<text transform="translate(2100.20 1582.00) scale(1.0057 1)" font-size="83.00" stroke="#000" stroke-width="0.50" stroke-linejoin="round">100</text>
<text transform="translate(79.00 994.00) rotate(-90) scale(1.0347 1)" font-size="90.00">Intensity (a.u.)</text>
<text transform="translate(1204.00 483.60) rotate(-90) scale(1.0323 1)" font-size="55.00" stroke="#000" stroke-width="0.33" stroke-linejoin="round">Intensity (a.u.)</text>
<text transform="translate(1212.10 669.60)" font-size="46.80" stroke="#000" stroke-width="0.28" stroke-linejoin="round">30</text>
<text transform="translate(1391.10 669.60)" font-size="46.80" stroke="#000" stroke-width="0.28" stroke-linejoin="round">32</text>
<text transform="translate(1570.10 669.60)" font-size="46.80" stroke="#000" stroke-width="0.28" stroke-linejoin="round">34</text>
<text transform="translate(1749.10 669.60)" font-size="46.80" stroke="#000" stroke-width="0.28" stroke-linejoin="round">36</text>
<text transform="translate(1928.10 669.60)" font-size="46.80" stroke="#000" stroke-width="0.28" stroke-linejoin="round">38</text>
<text transform="translate(2107.10 669.60)" font-size="46.80" stroke="#000" stroke-width="0.28" stroke-linejoin="round">40</text>
<text transform="translate(509.07 1582.00) scale(1.0009 1)" font-size="83.00" stroke="#000" stroke-width="0.50" stroke-linejoin="round">40</text>
<text transform="translate(777.73 1582.00) scale(1.0009 1)" font-size="83.00" stroke="#000" stroke-width="0.50" stroke-linejoin="round">50</text>
<text transform="translate(1046.40 1582.00) scale(1.0009 1)" font-size="83.00" stroke="#000" stroke-width="0.50" stroke-linejoin="round">60</text>
<text transform="translate(1315.07 1582.00) scale(1.0009 1)" font-size="83.00" stroke="#000" stroke-width="0.50" stroke-linejoin="round">70</text>
<text transform="translate(1583.73 1582.00) scale(1.0009 1)" font-size="83.00" stroke="#000" stroke-width="0.50" stroke-linejoin="round">80</text>
<text transform="translate(1852.40 1582.00) scale(1.0009 1)" font-size="83.00" stroke="#000" stroke-width="0.50" stroke-linejoin="round">90</text>
</svg></body></html>
